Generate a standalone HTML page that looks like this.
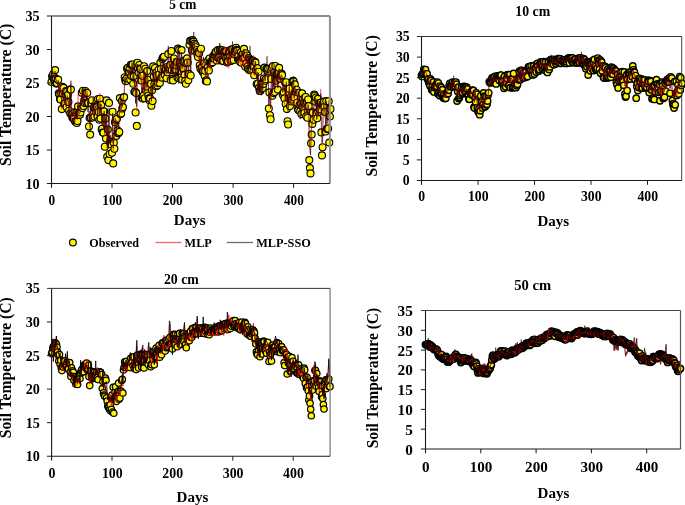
<!DOCTYPE html>
<html><head><meta charset="utf-8"><title>Soil temperature</title>
<style>html,body{margin:0;padding:0;background:#fff}svg{display:block}text{font-family:"Liberation Serif", serif;font-weight:bold;fill:#000}svg{will-change:transform;opacity:0.999}</style></head>
<body>
<svg width="685" height="505" viewBox="0 0 685 505">
<rect width="685" height="505" fill="#fff"/>
<g fill="#fff400" stroke="#000" stroke-width="1.10"><circle cx="51.5" cy="82.0" r="3.5"/><circle cx="52.1" cy="76.6" r="3.5"/><circle cx="52.7" cy="75.8" r="3.5"/><circle cx="53.3" cy="74.0" r="3.5"/><circle cx="53.9" cy="79.6" r="3.5"/><circle cx="54.5" cy="79.2" r="3.5"/><circle cx="55.1" cy="70.1" r="3.5"/><circle cx="55.7" cy="78.6" r="3.5"/><circle cx="56.3" cy="83.6" r="3.5"/><circle cx="56.9" cy="83.1" r="3.5"/><circle cx="57.6" cy="79.6" r="3.5"/><circle cx="58.2" cy="79.8" r="3.5"/><circle cx="58.8" cy="93.4" r="3.5"/><circle cx="59.4" cy="94.2" r="3.5"/><circle cx="60.0" cy="99.1" r="3.5"/><circle cx="60.6" cy="99.5" r="3.5"/><circle cx="61.2" cy="93.3" r="3.5"/><circle cx="61.8" cy="109.1" r="3.5"/><circle cx="62.4" cy="86.9" r="3.5"/><circle cx="63.0" cy="93.8" r="3.5"/><circle cx="63.6" cy="87.9" r="3.5"/><circle cx="64.2" cy="103.8" r="3.5"/><circle cx="64.8" cy="103.5" r="3.5"/><circle cx="65.4" cy="93.9" r="3.5"/><circle cx="66.0" cy="91.1" r="3.5"/><circle cx="66.6" cy="107.0" r="3.5"/><circle cx="67.2" cy="91.2" r="3.5"/><circle cx="67.8" cy="95.0" r="3.5"/><circle cx="68.4" cy="101.9" r="3.5"/><circle cx="69.1" cy="110.7" r="3.5"/><circle cx="69.7" cy="89.5" r="3.5"/><circle cx="70.3" cy="113.5" r="3.5"/><circle cx="70.9" cy="89.6" r="3.5"/><circle cx="71.5" cy="114.6" r="3.5"/><circle cx="72.1" cy="114.7" r="3.5"/><circle cx="72.7" cy="117.9" r="3.5"/><circle cx="73.3" cy="118.1" r="3.5"/><circle cx="73.9" cy="119.0" r="3.5"/><circle cx="74.5" cy="112.3" r="3.5"/><circle cx="75.1" cy="121.4" r="3.5"/><circle cx="75.7" cy="121.7" r="3.5"/><circle cx="76.3" cy="112.5" r="3.5"/><circle cx="76.9" cy="123.0" r="3.5"/><circle cx="77.5" cy="121.1" r="3.5"/><circle cx="78.1" cy="106.4" r="3.5"/><circle cx="78.7" cy="113.9" r="3.5"/><circle cx="79.3" cy="114.7" r="3.5"/><circle cx="79.9" cy="114.7" r="3.5"/><circle cx="80.5" cy="112.4" r="3.5"/><circle cx="81.2" cy="106.7" r="3.5"/><circle cx="81.8" cy="92.7" r="3.5"/><circle cx="82.4" cy="108.1" r="3.5"/><circle cx="83.0" cy="90.7" r="3.5"/><circle cx="83.6" cy="106.0" r="3.5"/><circle cx="84.2" cy="100.5" r="3.5"/><circle cx="84.8" cy="103.1" r="3.5"/><circle cx="85.4" cy="91.0" r="3.5"/><circle cx="86.0" cy="92.8" r="3.5"/><circle cx="86.6" cy="103.1" r="3.5"/><circle cx="87.2" cy="93.0" r="3.5"/><circle cx="87.8" cy="102.2" r="3.5"/><circle cx="88.4" cy="102.9" r="3.5"/><circle cx="89.0" cy="126.5" r="3.5"/><circle cx="89.6" cy="118.1" r="3.5"/><circle cx="90.2" cy="134.6" r="3.5"/><circle cx="90.8" cy="117.6" r="3.5"/><circle cx="91.4" cy="103.2" r="3.5"/><circle cx="92.0" cy="100.2" r="3.5"/><circle cx="92.7" cy="117.5" r="3.5"/><circle cx="93.3" cy="113.2" r="3.5"/><circle cx="93.9" cy="107.4" r="3.5"/><circle cx="94.5" cy="116.5" r="3.5"/><circle cx="95.1" cy="109.1" r="3.5"/><circle cx="95.7" cy="108.0" r="3.5"/><circle cx="96.3" cy="112.4" r="3.5"/><circle cx="96.9" cy="107.1" r="3.5"/><circle cx="97.5" cy="116.2" r="3.5"/><circle cx="98.1" cy="99.0" r="3.5"/><circle cx="98.7" cy="112.0" r="3.5"/><circle cx="99.3" cy="119.7" r="3.5"/><circle cx="99.9" cy="98.8" r="3.5"/><circle cx="100.5" cy="118.6" r="3.5"/><circle cx="101.1" cy="104.9" r="3.5"/><circle cx="101.7" cy="129.6" r="3.5"/><circle cx="102.3" cy="128.8" r="3.5"/><circle cx="102.9" cy="132.6" r="3.5"/><circle cx="103.5" cy="132.8" r="3.5"/><circle cx="104.2" cy="111.4" r="3.5"/><circle cx="104.8" cy="146.7" r="3.5"/><circle cx="105.4" cy="118.6" r="3.5"/><circle cx="106.0" cy="138.6" r="3.5"/><circle cx="106.6" cy="100.4" r="3.5"/><circle cx="107.2" cy="156.7" r="3.5"/><circle cx="107.8" cy="129.6" r="3.5"/><circle cx="108.4" cy="160.1" r="3.5"/><circle cx="109.0" cy="102.9" r="3.5"/><circle cx="109.6" cy="154.0" r="3.5"/><circle cx="110.2" cy="141.5" r="3.5"/><circle cx="110.8" cy="143.3" r="3.5"/><circle cx="111.4" cy="144.5" r="3.5"/><circle cx="112.0" cy="152.7" r="3.5"/><circle cx="112.6" cy="111.7" r="3.5"/><circle cx="113.2" cy="163.4" r="3.5"/><circle cx="113.8" cy="142.7" r="3.5"/><circle cx="114.4" cy="148.7" r="3.5"/><circle cx="115.0" cy="122.2" r="3.5"/><circle cx="115.7" cy="119.8" r="3.5"/><circle cx="116.3" cy="135.9" r="3.5"/><circle cx="116.9" cy="119.0" r="3.5"/><circle cx="117.5" cy="130.4" r="3.5"/><circle cx="118.1" cy="133.2" r="3.5"/><circle cx="118.7" cy="133.1" r="3.5"/><circle cx="119.3" cy="132.0" r="3.5"/><circle cx="119.9" cy="98.1" r="3.5"/><circle cx="120.5" cy="114.3" r="3.5"/><circle cx="121.1" cy="113.4" r="3.5"/><circle cx="121.7" cy="101.1" r="3.5"/><circle cx="122.3" cy="108.4" r="3.5"/><circle cx="122.9" cy="107.1" r="3.5"/><circle cx="123.5" cy="97.5" r="3.5"/><circle cx="124.1" cy="97.1" r="3.5"/><circle cx="124.7" cy="77.3" r="3.5"/><circle cx="125.3" cy="80.2" r="3.5"/><circle cx="125.9" cy="81.2" r="3.5"/><circle cx="126.5" cy="78.5" r="3.5"/><circle cx="127.1" cy="68.5" r="3.5"/><circle cx="127.8" cy="67.7" r="3.5"/><circle cx="128.4" cy="72.3" r="3.5"/><circle cx="129.0" cy="72.1" r="3.5"/><circle cx="129.6" cy="68.6" r="3.5"/><circle cx="130.2" cy="79.4" r="3.5"/><circle cx="130.8" cy="64.8" r="3.5"/><circle cx="131.4" cy="76.1" r="3.5"/><circle cx="132.0" cy="64.7" r="3.5"/><circle cx="132.6" cy="64.5" r="3.5"/><circle cx="133.2" cy="83.8" r="3.5"/><circle cx="133.8" cy="76.1" r="3.5"/><circle cx="134.4" cy="91.7" r="3.5"/><circle cx="135.0" cy="91.8" r="3.5"/><circle cx="135.6" cy="112.5" r="3.5"/><circle cx="136.2" cy="92.9" r="3.5"/><circle cx="136.8" cy="125.9" r="3.5"/><circle cx="137.4" cy="62.7" r="3.5"/><circle cx="138.0" cy="68.8" r="3.5"/><circle cx="138.6" cy="72.6" r="3.5"/><circle cx="139.3" cy="65.0" r="3.5"/><circle cx="139.9" cy="68.5" r="3.5"/><circle cx="140.5" cy="69.1" r="3.5"/><circle cx="141.1" cy="80.5" r="3.5"/><circle cx="141.7" cy="97.7" r="3.5"/><circle cx="142.3" cy="75.8" r="3.5"/><circle cx="142.9" cy="98.6" r="3.5"/><circle cx="143.5" cy="95.8" r="3.5"/><circle cx="144.1" cy="66.2" r="3.5"/><circle cx="144.7" cy="98.3" r="3.5"/><circle cx="145.3" cy="68.7" r="3.5"/><circle cx="145.9" cy="90.0" r="3.5"/><circle cx="146.5" cy="86.5" r="3.5"/><circle cx="147.1" cy="71.1" r="3.5"/><circle cx="147.7" cy="79.6" r="3.5"/><circle cx="148.3" cy="95.5" r="3.5"/><circle cx="148.9" cy="98.4" r="3.5"/><circle cx="149.5" cy="100.2" r="3.5"/><circle cx="150.1" cy="98.6" r="3.5"/><circle cx="150.8" cy="83.9" r="3.5"/><circle cx="151.4" cy="105.8" r="3.5"/><circle cx="152.0" cy="90.3" r="3.5"/><circle cx="152.6" cy="101.1" r="3.5"/><circle cx="153.2" cy="66.4" r="3.5"/><circle cx="153.8" cy="76.4" r="3.5"/><circle cx="154.4" cy="84.3" r="3.5"/><circle cx="155.0" cy="68.0" r="3.5"/><circle cx="155.6" cy="72.7" r="3.5"/><circle cx="156.2" cy="86.3" r="3.5"/><circle cx="156.8" cy="75.7" r="3.5"/><circle cx="157.4" cy="85.4" r="3.5"/><circle cx="158.0" cy="83.1" r="3.5"/><circle cx="158.6" cy="69.8" r="3.5"/><circle cx="159.2" cy="74.2" r="3.5"/><circle cx="159.8" cy="82.9" r="3.5"/><circle cx="160.4" cy="62.6" r="3.5"/><circle cx="161.0" cy="69.0" r="3.5"/><circle cx="161.6" cy="77.6" r="3.5"/><circle cx="162.3" cy="59.1" r="3.5"/><circle cx="162.9" cy="57.7" r="3.5"/><circle cx="163.5" cy="57.0" r="3.5"/><circle cx="164.1" cy="56.7" r="3.5"/><circle cx="164.7" cy="74.8" r="3.5"/><circle cx="165.3" cy="70.2" r="3.5"/><circle cx="165.9" cy="69.6" r="3.5"/><circle cx="166.5" cy="78.2" r="3.5"/><circle cx="167.1" cy="72.2" r="3.5"/><circle cx="167.7" cy="66.7" r="3.5"/><circle cx="168.3" cy="54.1" r="3.5"/><circle cx="168.9" cy="69.4" r="3.5"/><circle cx="169.5" cy="68.0" r="3.5"/><circle cx="170.1" cy="65.1" r="3.5"/><circle cx="170.7" cy="80.0" r="3.5"/><circle cx="171.3" cy="51.0" r="3.5"/><circle cx="171.9" cy="69.9" r="3.5"/><circle cx="172.5" cy="78.9" r="3.5"/><circle cx="173.1" cy="80.4" r="3.5"/><circle cx="173.8" cy="58.5" r="3.5"/><circle cx="174.4" cy="66.3" r="3.5"/><circle cx="175.0" cy="70.6" r="3.5"/><circle cx="175.6" cy="69.4" r="3.5"/><circle cx="176.2" cy="65.2" r="3.5"/><circle cx="176.8" cy="62.0" r="3.5"/><circle cx="177.4" cy="77.6" r="3.5"/><circle cx="178.0" cy="48.6" r="3.5"/><circle cx="178.6" cy="77.9" r="3.5"/><circle cx="179.2" cy="49.9" r="3.5"/><circle cx="179.8" cy="63.1" r="3.5"/><circle cx="180.4" cy="77.6" r="3.5"/><circle cx="181.0" cy="66.3" r="3.5"/><circle cx="181.6" cy="50.1" r="3.5"/><circle cx="182.2" cy="79.7" r="3.5"/><circle cx="182.8" cy="67.9" r="3.5"/><circle cx="183.4" cy="60.8" r="3.5"/><circle cx="184.0" cy="62.1" r="3.5"/><circle cx="184.6" cy="74.9" r="3.5"/><circle cx="185.2" cy="80.9" r="3.5"/><circle cx="185.9" cy="83.7" r="3.5"/><circle cx="186.5" cy="63.2" r="3.5"/><circle cx="187.1" cy="58.4" r="3.5"/><circle cx="187.7" cy="62.5" r="3.5"/><circle cx="188.3" cy="80.3" r="3.5"/><circle cx="188.9" cy="73.9" r="3.5"/><circle cx="189.5" cy="44.8" r="3.5"/><circle cx="190.1" cy="40.8" r="3.5"/><circle cx="190.7" cy="75.5" r="3.5"/><circle cx="191.3" cy="40.6" r="3.5"/><circle cx="191.9" cy="50.5" r="3.5"/><circle cx="192.5" cy="40.1" r="3.5"/><circle cx="193.1" cy="41.4" r="3.5"/><circle cx="193.7" cy="41.7" r="3.5"/><circle cx="194.3" cy="43.8" r="3.5"/><circle cx="194.9" cy="50.8" r="3.5"/><circle cx="195.5" cy="45.3" r="3.5"/><circle cx="196.1" cy="47.3" r="3.5"/><circle cx="196.7" cy="50.0" r="3.5"/><circle cx="197.4" cy="54.2" r="3.5"/><circle cx="198.0" cy="57.0" r="3.5"/><circle cx="198.6" cy="51.6" r="3.5"/><circle cx="199.2" cy="53.2" r="3.5"/><circle cx="199.8" cy="65.2" r="3.5"/><circle cx="200.4" cy="68.6" r="3.5"/><circle cx="201.0" cy="48.8" r="3.5"/><circle cx="201.6" cy="70.0" r="3.5"/><circle cx="202.2" cy="66.9" r="3.5"/><circle cx="202.8" cy="71.9" r="3.5"/><circle cx="203.4" cy="70.9" r="3.5"/><circle cx="204.0" cy="63.2" r="3.5"/><circle cx="204.6" cy="75.6" r="3.5"/><circle cx="205.2" cy="70.7" r="3.5"/><circle cx="205.8" cy="81.0" r="3.5"/><circle cx="206.4" cy="80.2" r="3.5"/><circle cx="207.0" cy="81.5" r="3.5"/><circle cx="207.6" cy="67.8" r="3.5"/><circle cx="208.2" cy="60.6" r="3.5"/><circle cx="208.9" cy="70.5" r="3.5"/><circle cx="209.5" cy="58.5" r="3.5"/><circle cx="210.1" cy="63.3" r="3.5"/><circle cx="210.7" cy="61.7" r="3.5"/><circle cx="211.3" cy="63.2" r="3.5"/><circle cx="211.9" cy="61.8" r="3.5"/><circle cx="212.5" cy="62.2" r="3.5"/><circle cx="213.1" cy="56.2" r="3.5"/><circle cx="213.7" cy="58.5" r="3.5"/><circle cx="214.3" cy="55.0" r="3.5"/><circle cx="214.9" cy="54.8" r="3.5"/><circle cx="215.5" cy="52.4" r="3.5"/><circle cx="216.1" cy="51.9" r="3.5"/><circle cx="216.7" cy="60.4" r="3.5"/><circle cx="217.3" cy="57.4" r="3.5"/><circle cx="217.9" cy="50.1" r="3.5"/><circle cx="218.5" cy="58.0" r="3.5"/><circle cx="219.1" cy="57.5" r="3.5"/><circle cx="219.7" cy="49.7" r="3.5"/><circle cx="220.4" cy="49.9" r="3.5"/><circle cx="221.0" cy="60.1" r="3.5"/><circle cx="221.6" cy="50.6" r="3.5"/><circle cx="222.2" cy="50.3" r="3.5"/><circle cx="222.8" cy="61.1" r="3.5"/><circle cx="223.4" cy="61.0" r="3.5"/><circle cx="224.0" cy="51.6" r="3.5"/><circle cx="224.6" cy="56.3" r="3.5"/><circle cx="225.2" cy="51.5" r="3.5"/><circle cx="225.8" cy="58.3" r="3.5"/><circle cx="226.4" cy="51.2" r="3.5"/><circle cx="227.0" cy="62.4" r="3.5"/><circle cx="227.6" cy="61.1" r="3.5"/><circle cx="228.2" cy="61.6" r="3.5"/><circle cx="228.8" cy="53.0" r="3.5"/><circle cx="229.4" cy="51.0" r="3.5"/><circle cx="230.0" cy="56.8" r="3.5"/><circle cx="230.6" cy="61.0" r="3.5"/><circle cx="231.2" cy="49.5" r="3.5"/><circle cx="231.8" cy="60.5" r="3.5"/><circle cx="232.5" cy="49.2" r="3.5"/><circle cx="233.1" cy="56.9" r="3.5"/><circle cx="233.7" cy="59.9" r="3.5"/><circle cx="234.3" cy="54.2" r="3.5"/><circle cx="234.9" cy="50.7" r="3.5"/><circle cx="235.5" cy="52.0" r="3.5"/><circle cx="236.1" cy="47.7" r="3.5"/><circle cx="236.7" cy="49.9" r="3.5"/><circle cx="237.3" cy="50.7" r="3.5"/><circle cx="237.9" cy="59.1" r="3.5"/><circle cx="238.5" cy="56.1" r="3.5"/><circle cx="239.1" cy="60.1" r="3.5"/><circle cx="239.7" cy="59.9" r="3.5"/><circle cx="240.3" cy="61.9" r="3.5"/><circle cx="240.9" cy="52.1" r="3.5"/><circle cx="241.5" cy="62.7" r="3.5"/><circle cx="242.1" cy="54.9" r="3.5"/><circle cx="242.7" cy="54.0" r="3.5"/><circle cx="243.3" cy="58.3" r="3.5"/><circle cx="244.0" cy="48.9" r="3.5"/><circle cx="244.6" cy="57.8" r="3.5"/><circle cx="245.2" cy="66.6" r="3.5"/><circle cx="245.8" cy="53.2" r="3.5"/><circle cx="246.4" cy="63.4" r="3.5"/><circle cx="247.0" cy="55.5" r="3.5"/><circle cx="247.6" cy="66.4" r="3.5"/><circle cx="248.2" cy="69.1" r="3.5"/><circle cx="248.8" cy="58.0" r="3.5"/><circle cx="249.4" cy="70.1" r="3.5"/><circle cx="250.0" cy="59.5" r="3.5"/><circle cx="250.6" cy="70.0" r="3.5"/><circle cx="251.2" cy="61.5" r="3.5"/><circle cx="251.8" cy="69.0" r="3.5"/><circle cx="252.4" cy="60.4" r="3.5"/><circle cx="253.0" cy="60.7" r="3.5"/><circle cx="253.6" cy="66.2" r="3.5"/><circle cx="254.2" cy="75.2" r="3.5"/><circle cx="254.8" cy="61.8" r="3.5"/><circle cx="255.5" cy="62.6" r="3.5"/><circle cx="256.1" cy="69.8" r="3.5"/><circle cx="256.7" cy="84.0" r="3.5"/><circle cx="257.3" cy="68.1" r="3.5"/><circle cx="257.9" cy="83.6" r="3.5"/><circle cx="258.5" cy="71.8" r="3.5"/><circle cx="259.1" cy="87.8" r="3.5"/><circle cx="259.7" cy="90.9" r="3.5"/><circle cx="260.3" cy="90.9" r="3.5"/><circle cx="260.9" cy="89.5" r="3.5"/><circle cx="261.5" cy="86.6" r="3.5"/><circle cx="262.1" cy="84.0" r="3.5"/><circle cx="262.7" cy="87.9" r="3.5"/><circle cx="263.3" cy="83.9" r="3.5"/><circle cx="263.9" cy="78.5" r="3.5"/><circle cx="264.5" cy="67.6" r="3.5"/><circle cx="265.1" cy="80.8" r="3.5"/><circle cx="265.7" cy="79.2" r="3.5"/><circle cx="266.3" cy="68.7" r="3.5"/><circle cx="267.0" cy="69.2" r="3.5"/><circle cx="267.6" cy="71.4" r="3.5"/><circle cx="268.2" cy="68.8" r="3.5"/><circle cx="268.8" cy="108.5" r="3.5"/><circle cx="269.4" cy="92.4" r="3.5"/><circle cx="270.0" cy="115.2" r="3.5"/><circle cx="270.6" cy="119.2" r="3.5"/><circle cx="271.2" cy="79.0" r="3.5"/><circle cx="271.8" cy="67.6" r="3.5"/><circle cx="272.4" cy="95.8" r="3.5"/><circle cx="273.0" cy="66.1" r="3.5"/><circle cx="273.6" cy="93.1" r="3.5"/><circle cx="274.2" cy="72.7" r="3.5"/><circle cx="274.8" cy="92.0" r="3.5"/><circle cx="275.4" cy="66.0" r="3.5"/><circle cx="276.0" cy="80.8" r="3.5"/><circle cx="276.6" cy="74.9" r="3.5"/><circle cx="277.2" cy="74.1" r="3.5"/><circle cx="277.8" cy="89.6" r="3.5"/><circle cx="278.4" cy="72.8" r="3.5"/><circle cx="279.1" cy="67.9" r="3.5"/><circle cx="279.7" cy="78.9" r="3.5"/><circle cx="280.3" cy="78.7" r="3.5"/><circle cx="280.9" cy="75.7" r="3.5"/><circle cx="281.5" cy="73.6" r="3.5"/><circle cx="282.1" cy="75.1" r="3.5"/><circle cx="282.7" cy="94.1" r="3.5"/><circle cx="283.3" cy="95.4" r="3.5"/><circle cx="283.9" cy="92.5" r="3.5"/><circle cx="284.5" cy="98.4" r="3.5"/><circle cx="285.1" cy="82.8" r="3.5"/><circle cx="285.7" cy="104.0" r="3.5"/><circle cx="286.3" cy="82.3" r="3.5"/><circle cx="286.9" cy="109.1" r="3.5"/><circle cx="287.5" cy="121.2" r="3.5"/><circle cx="288.1" cy="124.5" r="3.5"/><circle cx="288.7" cy="92.8" r="3.5"/><circle cx="289.3" cy="88.8" r="3.5"/><circle cx="289.9" cy="106.0" r="3.5"/><circle cx="290.6" cy="97.2" r="3.5"/><circle cx="291.2" cy="101.4" r="3.5"/><circle cx="291.8" cy="99.6" r="3.5"/><circle cx="292.4" cy="82.0" r="3.5"/><circle cx="293.0" cy="80.9" r="3.5"/><circle cx="293.6" cy="81.4" r="3.5"/><circle cx="294.2" cy="97.4" r="3.5"/><circle cx="294.8" cy="84.4" r="3.5"/><circle cx="295.4" cy="91.5" r="3.5"/><circle cx="296.0" cy="92.0" r="3.5"/><circle cx="296.6" cy="89.8" r="3.5"/><circle cx="297.2" cy="102.8" r="3.5"/><circle cx="297.8" cy="108.9" r="3.5"/><circle cx="298.4" cy="110.1" r="3.5"/><circle cx="299.0" cy="92.7" r="3.5"/><circle cx="299.6" cy="104.9" r="3.5"/><circle cx="300.2" cy="111.2" r="3.5"/><circle cx="300.8" cy="103.6" r="3.5"/><circle cx="301.4" cy="114.1" r="3.5"/><circle cx="302.1" cy="93.4" r="3.5"/><circle cx="302.7" cy="107.0" r="3.5"/><circle cx="303.3" cy="99.0" r="3.5"/><circle cx="303.9" cy="102.7" r="3.5"/><circle cx="304.5" cy="113.0" r="3.5"/><circle cx="305.1" cy="97.8" r="3.5"/><circle cx="305.7" cy="97.0" r="3.5"/><circle cx="306.3" cy="116.2" r="3.5"/><circle cx="306.9" cy="101.9" r="3.5"/><circle cx="307.5" cy="117.7" r="3.5"/><circle cx="308.1" cy="99.5" r="3.5"/><circle cx="308.7" cy="106.1" r="3.5"/><circle cx="309.3" cy="160.1" r="3.5"/><circle cx="309.9" cy="168.1" r="3.5"/><circle cx="310.5" cy="173.4" r="3.5"/><circle cx="311.1" cy="143.3" r="3.5"/><circle cx="311.7" cy="134.6" r="3.5"/><circle cx="312.3" cy="123.9" r="3.5"/><circle cx="312.9" cy="112.6" r="3.5"/><circle cx="313.6" cy="119.8" r="3.5"/><circle cx="314.2" cy="94.5" r="3.5"/><circle cx="314.8" cy="95.6" r="3.5"/><circle cx="315.4" cy="101.7" r="3.5"/><circle cx="316.0" cy="97.5" r="3.5"/><circle cx="316.6" cy="113.1" r="3.5"/><circle cx="317.2" cy="118.2" r="3.5"/><circle cx="317.8" cy="98.9" r="3.5"/><circle cx="318.4" cy="111.8" r="3.5"/><circle cx="319.0" cy="103.4" r="3.5"/><circle cx="319.6" cy="109.4" r="3.5"/><circle cx="320.2" cy="103.1" r="3.5"/><circle cx="320.8" cy="102.6" r="3.5"/><circle cx="321.4" cy="132.4" r="3.5"/><circle cx="322.0" cy="155.4" r="3.5"/><circle cx="322.6" cy="147.3" r="3.5"/><circle cx="323.2" cy="103.5" r="3.5"/><circle cx="323.8" cy="101.6" r="3.5"/><circle cx="324.4" cy="107.0" r="3.5"/><circle cx="325.1" cy="111.9" r="3.5"/><circle cx="325.7" cy="131.5" r="3.5"/><circle cx="326.3" cy="101.1" r="3.5"/><circle cx="326.9" cy="128.7" r="3.5"/><circle cx="327.5" cy="129.1" r="3.5"/><circle cx="328.1" cy="128.5" r="3.5"/><circle cx="328.7" cy="101.3" r="3.5"/><circle cx="329.3" cy="142.6" r="3.5"/><circle cx="329.9" cy="116.5" r="3.5"/><circle cx="330.5" cy="109.0" r="3.5"/></g>
<polyline fill="none" stroke="#ff0000" stroke-width="0.42" stroke-linejoin="bevel" points="51.5,80.1 52.1,77.4 52.7,71.2 53.3,74.1 53.9,77.5 54.5,76.2 55.1,74.3 55.7,79.9 56.3,79.4 56.9,82.2 57.6,84.1 58.2,80.7 58.8,94.9 59.4,92.2 60.0,82.8 60.6,93.0 61.2,94.9 61.8,109.4 62.4,88.4 63.0,93.4 63.6,89.2 64.2,103.5 64.8,104.3 65.4,96.3 66.0,106.9 66.6,106.4 67.2,98.2 67.8,100.1 68.4,101.6 69.1,117.5 69.7,92.6 70.3,109.5 70.9,83.9 71.5,121.0 72.1,109.7 72.7,117.0 73.3,114.1 73.9,115.0 74.5,109.8 75.1,122.1 75.7,112.5 76.3,112.4 76.9,119.3 77.5,119.8 78.1,93.7 78.7,114.7 79.3,113.8 79.9,112.7 80.5,109.1 81.2,102.8 81.8,92.7 82.4,104.0 83.0,90.8 83.6,103.1 84.2,98.0 84.8,98.4 85.4,89.3 86.0,97.4 86.6,101.1 87.2,90.9 87.8,102.4 88.4,102.2 89.0,118.6 89.6,115.7 90.2,124.7 90.8,112.8 91.4,107.4 92.0,104.1 92.7,109.4 93.3,96.9 93.9,108.0 94.5,117.4 95.1,105.9 95.7,108.5 96.3,105.2 96.9,105.4 97.5,114.2 98.1,103.5 98.7,104.7 99.3,115.9 99.9,92.9 100.5,106.1 101.1,104.2 101.7,125.1 102.3,124.4 102.9,113.2 103.5,126.7 104.2,110.8 104.8,136.3 105.4,118.9 106.0,132.9 106.6,109.6 107.2,145.7 107.8,124.4 108.4,146.8 109.0,111.2 109.6,144.3 110.2,134.7 110.8,138.9 111.4,137.7 112.0,140.9 112.6,115.7 113.2,150.7 113.8,137.3 114.4,141.2 115.0,121.5 115.7,118.1 116.3,131.0 116.9,121.2 117.5,126.2 118.1,124.1 118.7,127.5 119.3,121.1 119.9,99.7 120.5,113.1 121.1,111.7 121.7,102.1 122.3,107.6 122.9,103.8 123.5,93.1 124.1,94.8 124.7,81.1 125.3,80.5 125.9,77.6 126.5,76.2 127.1,72.6 127.8,71.1 128.4,73.5 129.0,69.2 129.6,73.0 130.2,78.1 130.8,66.4 131.4,74.5 132.0,63.4 132.6,68.6 133.2,81.7 133.8,77.3 134.4,81.6 135.0,82.2 135.6,102.9 136.2,82.9 136.8,110.9 137.4,63.9 138.0,70.7 138.6,72.8 139.3,68.3 139.9,67.6 140.5,73.0 141.1,78.9 141.7,92.5 142.3,75.9 142.9,93.2 143.5,93.4 144.1,72.8 144.7,91.5 145.3,72.3 145.9,91.0 146.5,84.6 147.1,67.2 147.7,85.0 148.3,90.3 148.9,93.2 149.5,94.2 150.1,93.0 150.8,88.2 151.4,102.3 152.0,86.2 152.6,96.6 153.2,70.0 153.8,76.8 154.4,84.9 155.0,71.1 155.6,71.6 156.2,84.7 156.8,75.6 157.4,82.8 158.0,82.6 158.6,74.9 159.2,74.8 159.8,79.7 160.4,61.9 161.0,70.4 161.6,72.6 162.3,61.2 162.9,61.8 163.5,61.6 164.1,65.4 164.7,75.2 165.3,70.5 165.9,66.3 166.5,76.7 167.1,70.9 167.7,68.2 168.3,48.8 168.9,62.0 169.5,68.5 170.1,61.5 170.7,72.5 171.3,58.2 171.9,64.2 172.5,78.6 173.1,77.2 173.8,60.1 174.4,62.1 175.0,70.6 175.6,74.5 176.2,63.1 176.8,57.7 177.4,72.0 178.0,50.3 178.6,82.6 179.2,50.9 179.8,50.2 180.4,74.0 181.0,66.3 181.6,54.3 182.2,69.4 182.8,66.4 183.4,63.4 184.0,62.6 184.6,75.6 185.2,77.3 185.9,79.8 186.5,65.4 187.1,58.7 187.7,65.8 188.3,73.9 188.9,66.8 189.5,49.0 190.1,41.8 190.7,72.8 191.3,45.5 191.9,50.1 192.5,45.6 193.1,42.5 193.7,46.8 194.3,44.8 194.9,54.9 195.5,49.5 196.1,50.5 196.7,50.8 197.4,54.6 198.0,54.4 198.6,63.0 199.2,54.6 199.8,69.7 200.4,67.3 201.0,49.5 201.6,66.4 202.2,63.4 202.8,65.5 203.4,57.0 204.0,61.5 204.6,72.7 205.2,69.5 205.8,77.9 206.4,76.2 207.0,78.8 207.6,65.4 208.2,64.3 208.9,67.7 209.5,60.6 210.1,70.4 210.7,61.0 211.3,62.1 211.9,55.6 212.5,59.9 213.1,54.3 213.7,59.7 214.3,54.3 214.9,56.0 215.5,59.5 216.1,56.0 216.7,63.5 217.3,62.1 217.9,52.7 218.5,63.9 219.1,65.1 219.7,43.4 220.4,52.3 221.0,56.9 221.6,54.1 222.2,47.9 222.8,58.8 223.4,61.6 224.0,57.1 224.6,46.4 225.2,51.9 225.8,57.2 226.4,46.7 227.0,61.7 227.6,58.4 228.2,68.4 228.8,48.1 229.4,66.6 230.0,55.2 230.6,58.1 231.2,48.7 231.8,55.1 232.5,49.3 233.1,57.5 233.7,55.8 234.3,58.2 234.9,50.7 235.5,55.7 236.1,48.3 236.7,51.9 237.3,52.2 237.9,59.0 238.5,54.5 239.1,63.3 239.7,59.4 240.3,62.6 240.9,66.2 241.5,52.4 242.1,51.4 242.7,63.4 243.3,59.3 244.0,49.0 244.6,56.2 245.2,66.8 245.8,56.7 246.4,64.0 247.0,54.8 247.6,65.2 248.2,69.6 248.8,54.5 249.4,59.4 250.0,57.7 250.6,76.4 251.2,63.9 251.8,64.2 252.4,59.3 253.0,61.0 253.6,55.3 254.2,75.8 254.8,65.8 255.5,62.1 256.1,71.9 256.7,81.0 257.3,73.8 257.9,92.9 258.5,73.3 259.1,92.3 259.7,86.6 260.3,90.4 260.9,83.3 261.5,95.7 262.1,82.8 262.7,89.2 263.3,78.9 263.9,82.9 264.5,68.6 265.1,79.6 265.7,72.6 266.3,76.1 267.0,70.8 267.6,70.8 268.2,71.3 268.8,106.3 269.4,91.3 270.0,99.0 270.6,107.5 271.2,81.2 271.8,62.7 272.4,93.1 273.0,72.6 273.6,87.2 274.2,78.4 274.8,90.5 275.4,72.8 276.0,84.6 276.6,76.6 277.2,72.0 277.8,88.2 278.4,79.3 279.1,68.8 279.7,77.3 280.3,82.5 280.9,75.8 281.5,75.8 282.1,78.1 282.7,92.2 283.3,90.2 283.9,83.8 284.5,104.6 285.1,84.3 285.7,101.4 286.3,84.3 286.9,102.9 287.5,100.3 288.1,108.9 288.7,94.0 289.3,89.1 289.9,103.7 290.6,94.1 291.2,102.0 291.8,101.5 292.4,78.9 293.0,88.1 293.6,87.0 294.2,108.6 294.8,87.9 295.4,89.9 296.0,95.9 296.6,90.1 297.2,101.8 297.8,105.4 298.4,103.8 299.0,94.4 299.6,106.2 300.2,119.1 300.8,107.8 301.4,106.5 302.1,97.7 302.7,108.8 303.3,101.9 303.9,103.2 304.5,113.3 305.1,99.9 305.7,104.1 306.3,115.7 306.9,107.9 307.5,112.5 308.1,104.6 308.7,111.7 309.3,145.0 309.9,149.5 310.5,154.9 311.1,143.0 311.7,125.7 312.3,119.8 312.9,107.8 313.6,117.6 314.2,102.4 314.8,97.1 315.4,102.9 316.0,101.1 316.6,119.4 317.2,115.3 317.8,104.7 318.4,117.3 319.0,101.7 319.6,108.5 320.2,105.2 320.8,89.0 321.4,126.9 322.0,145.5 322.6,143.9 323.2,109.3 323.8,105.6 324.4,110.6 325.1,109.5 325.7,130.5 326.3,101.3 326.9,123.5 327.5,117.9 328.1,109.5 328.7,100.3 329.3,132.1 329.9,113.8 330.5,112.8"/>
<polyline fill="none" stroke="#000000" stroke-width="0.50" stroke-linejoin="bevel" points="51.5,79.1 52.1,77.6 52.7,69.3 53.3,77.6 53.9,76.4 54.5,78.6 55.1,70.9 55.7,79.6 56.3,79.8 56.9,81.4 57.6,85.8 58.2,80.5 58.8,92.7 59.4,90.3 60.0,92.7 60.6,92.2 61.2,93.2 61.8,106.6 62.4,89.6 63.0,95.0 63.6,93.4 64.2,103.0 64.8,101.2 65.4,93.9 66.0,106.9 66.6,105.3 67.2,95.6 67.8,100.5 68.4,99.4 69.1,119.8 69.7,92.8 70.3,106.7 70.9,80.7 71.5,114.1 72.1,112.5 72.7,116.5 73.3,112.1 73.9,114.0 74.5,108.6 75.1,118.5 75.7,114.5 76.3,109.2 76.9,119.2 77.5,112.6 78.1,105.4 78.7,112.9 79.3,113.8 79.9,113.5 80.5,107.6 81.2,100.3 81.8,94.4 82.4,102.7 83.0,89.6 83.6,100.1 84.2,97.4 84.8,96.8 85.4,87.2 86.0,94.4 86.6,98.9 87.2,94.3 87.8,111.9 88.4,99.3 89.0,116.0 89.6,118.8 90.2,130.9 90.8,111.7 91.4,107.5 92.0,102.1 92.7,107.4 93.3,97.4 93.9,105.7 94.5,116.4 95.1,106.7 95.7,107.2 96.3,101.0 96.9,103.1 97.5,115.0 98.1,99.2 98.7,106.4 99.3,115.2 99.9,103.4 100.5,110.4 101.1,103.9 101.7,122.9 102.3,126.1 102.9,112.9 103.5,128.3 104.2,111.2 104.8,132.8 105.4,116.4 106.0,132.0 106.6,109.4 107.2,148.2 107.8,126.2 108.4,146.2 109.0,107.8 109.6,143.0 110.2,135.5 110.8,138.5 111.4,138.0 112.0,142.8 112.6,112.9 113.2,148.1 113.8,137.1 114.4,136.5 115.0,118.7 115.7,120.7 116.3,132.0 116.9,120.5 117.5,123.7 118.1,123.0 118.7,127.6 119.3,119.1 119.9,100.4 120.5,101.3 121.1,108.5 121.7,98.5 122.3,106.2 122.9,103.5 123.5,93.2 124.1,94.9 124.7,77.4 125.3,84.3 125.9,73.9 126.5,73.6 127.1,73.1 127.8,69.2 128.4,72.6 129.0,69.2 129.6,69.8 130.2,78.6 130.8,66.5 131.4,75.1 132.0,62.5 132.6,67.9 133.2,82.5 133.8,60.9 134.4,86.2 135.0,79.9 135.6,103.5 136.2,88.7 136.8,106.5 137.4,64.0 138.0,70.1 138.6,83.0 139.3,69.7 139.9,69.6 140.5,72.0 141.1,80.0 141.7,92.7 142.3,89.6 142.9,92.2 143.5,79.7 144.1,70.3 144.7,92.3 145.3,72.3 145.9,85.7 146.5,87.4 147.1,67.3 147.7,77.8 148.3,92.4 148.9,92.3 149.5,94.0 150.1,91.9 150.8,86.6 151.4,100.8 152.0,86.0 152.6,95.9 153.2,69.6 153.8,82.8 154.4,84.5 155.0,72.1 155.6,73.4 156.2,81.6 156.8,76.7 157.4,82.6 158.0,77.4 158.6,74.2 159.2,70.9 159.8,79.8 160.4,63.1 161.0,68.3 161.6,74.2 162.3,63.7 162.9,58.1 163.5,60.1 164.1,65.8 164.7,75.0 165.3,66.6 165.9,65.2 166.5,72.4 167.1,69.5 167.7,65.0 168.3,45.9 168.9,62.2 169.5,66.3 170.1,64.4 170.7,73.0 171.3,57.1 171.9,63.0 172.5,77.3 173.1,77.0 173.8,58.6 174.4,60.7 175.0,57.9 175.6,73.9 176.2,70.8 176.8,59.0 177.4,73.5 178.0,49.3 178.6,83.5 179.2,51.2 179.8,51.7 180.4,72.8 181.0,68.4 181.6,52.1 182.2,68.0 182.8,66.7 183.4,61.2 184.0,63.3 184.6,76.5 185.2,78.0 185.9,77.7 186.5,65.9 187.1,59.5 187.7,65.3 188.3,72.5 188.9,68.1 189.5,50.7 190.1,39.5 190.7,72.4 191.3,41.3 191.9,50.3 192.5,44.9 193.1,42.8 193.7,32.0 194.3,41.6 194.9,54.4 195.5,48.9 196.1,50.5 196.7,49.9 197.4,49.7 198.0,52.2 198.6,51.6 199.2,54.3 199.8,62.6 200.4,65.7 201.0,51.0 201.6,65.2 202.2,63.8 202.8,63.7 203.4,56.8 204.0,62.0 204.6,69.2 205.2,67.7 205.8,77.0 206.4,76.7 207.0,78.7 207.6,63.7 208.2,64.2 208.9,66.1 209.5,59.6 210.1,64.0 210.7,58.8 211.3,62.3 211.9,57.9 212.5,55.7 213.1,53.8 213.7,59.1 214.3,53.3 214.9,54.1 215.5,58.0 216.1,55.7 216.7,62.1 217.3,60.9 217.9,50.7 218.5,48.9 219.1,63.6 219.7,43.1 220.4,51.4 221.0,56.5 221.6,52.1 222.2,47.4 222.8,58.8 223.4,60.9 224.0,53.2 224.6,58.0 225.2,52.8 225.8,56.1 226.4,48.3 227.0,58.0 227.6,57.0 228.2,59.8 228.8,48.1 229.4,55.4 230.0,54.2 230.6,56.3 231.2,46.7 231.8,56.4 232.5,41.4 233.1,56.5 233.7,55.4 234.3,55.7 234.9,52.7 235.5,53.2 236.1,45.7 236.7,51.4 237.3,51.9 237.9,60.5 238.5,53.2 239.1,59.3 239.7,60.1 240.3,59.1 240.9,52.2 241.5,50.8 242.1,53.3 242.7,54.2 243.3,57.2 244.0,49.2 244.6,53.9 245.2,54.2 245.8,55.4 246.4,61.2 247.0,52.9 247.6,65.9 248.2,69.1 248.8,55.7 249.4,69.1 250.0,45.9 250.6,70.5 251.2,56.2 251.8,65.2 252.4,58.8 253.0,61.9 253.6,59.4 254.2,74.6 254.8,65.6 255.5,61.1 256.1,72.0 256.7,79.1 257.3,72.1 257.9,90.9 258.5,72.6 259.1,93.1 259.7,85.6 260.3,92.1 260.9,83.0 261.5,94.2 262.1,83.1 262.7,90.1 263.3,79.1 263.9,79.0 264.5,68.2 265.1,81.0 265.7,72.4 266.3,74.6 267.0,56.3 267.6,73.7 268.2,69.0 268.8,105.8 269.4,93.0 270.0,101.3 270.6,108.8 271.2,85.3 271.8,71.9 272.4,92.8 273.0,70.5 273.6,87.5 274.2,64.1 274.8,89.0 275.4,68.6 276.0,78.2 276.6,75.8 277.2,72.8 277.8,88.1 278.4,76.0 279.1,68.7 279.7,77.2 280.3,81.6 280.9,75.2 281.5,74.8 282.1,76.6 282.7,92.2 283.3,89.3 283.9,84.8 284.5,91.2 285.1,85.5 285.7,101.4 286.3,81.6 286.9,102.4 287.5,95.4 288.1,112.0 288.7,95.1 289.3,86.3 289.9,103.5 290.6,93.9 291.2,100.3 291.8,96.7 292.4,81.5 293.0,85.1 293.6,76.1 294.2,97.8 294.8,85.5 295.4,89.0 296.0,93.9 296.6,89.0 297.2,91.6 297.8,108.9 298.4,107.2 299.0,92.6 299.6,102.6 300.2,119.1 300.8,101.4 301.4,109.7 302.1,99.4 302.7,108.0 303.3,101.0 303.9,105.1 304.5,114.5 305.1,99.7 305.7,101.1 306.3,113.2 306.9,110.7 307.5,113.7 308.1,104.7 308.7,107.0 309.3,141.9 309.9,147.8 310.5,155.1 311.1,130.0 311.7,127.6 312.3,119.4 312.9,107.3 313.6,113.3 314.2,101.5 314.8,97.0 315.4,100.4 316.0,98.4 316.6,119.5 317.2,117.9 317.8,103.1 318.4,115.6 319.0,101.2 319.6,108.8 320.2,105.1 320.8,93.5 321.4,126.1 322.0,142.7 322.6,140.5 323.2,107.4 323.8,103.9 324.4,107.8 325.1,113.1 325.7,127.3 326.3,101.2 326.9,124.3 327.5,120.0 328.1,107.1 328.7,103.6 329.3,132.2 329.9,112.6 330.5,114.9"/>
<g shape-rendering="auto"><path d="M46.9 16.0H329.9" stroke="#8c8c8c" stroke-width="1.8"/><path d="M329.9 16.0V183.5" stroke="#909090" stroke-width="2.0"/><path d="M51.5 16.0V187.8" stroke="#1a1a1a" stroke-width="1.1"/><path d="M46.9 183.5H329.9" stroke="#1a1a1a" stroke-width="1.1"/><path d="M46.9 150.0H51.5M46.9 116.5H51.5M46.9 83.0H51.5M46.9 49.5H51.5M112.0 183.5V187.8M172.5 183.5V187.8M233.1 183.5V187.8M293.6 183.5V187.8" stroke="#1a1a1a" stroke-width="1" fill="none"/></g>
<text transform="translate(39.6 188.8) scale(0.970 1)" text-anchor="end" font-size="14.6">10</text><text transform="translate(39.6 155.3) scale(0.970 1)" text-anchor="end" font-size="14.6">15</text><text transform="translate(39.6 121.8) scale(0.970 1)" text-anchor="end" font-size="14.6">20</text><text transform="translate(39.6 88.3) scale(0.970 1)" text-anchor="end" font-size="14.6">25</text><text transform="translate(39.6 54.8) scale(0.970 1)" text-anchor="end" font-size="14.6">30</text><text transform="translate(39.6 21.3) scale(0.970 1)" text-anchor="end" font-size="14.6">35</text><text transform="translate(51.8 205.2) scale(0.910 1)" text-anchor="middle" font-size="14.6">0</text><text transform="translate(112.3 205.2) scale(0.910 1)" text-anchor="middle" font-size="14.6">100</text><text transform="translate(172.8 205.2) scale(0.910 1)" text-anchor="middle" font-size="14.6">200</text><text transform="translate(233.4 205.2) scale(0.910 1)" text-anchor="middle" font-size="14.6">300</text><text transform="translate(293.9 205.2) scale(0.910 1)" text-anchor="middle" font-size="14.6">400</text><text transform="translate(182.8 9.4) scale(0.955 1)" text-anchor="middle" font-size="14.0">5 cm</text><text transform="translate(189.7 224.9) scale(0.985 1)" text-anchor="middle" font-size="15.3">Days</text><text transform="translate(11.0 94.9) rotate(-90) scale(0.985 1)" text-anchor="middle" font-size="16.0">Soil Temperature (C)</text>
<g fill="#fff400" stroke="#000" stroke-width="1.40"><circle cx="421.5" cy="75.3" r="3.2"/><circle cx="422.1" cy="76.4" r="3.2"/><circle cx="422.6" cy="74.0" r="3.2"/><circle cx="423.2" cy="73.3" r="3.2"/><circle cx="423.8" cy="69.5" r="3.2"/><circle cx="424.3" cy="72.0" r="3.2"/><circle cx="424.9" cy="72.2" r="3.2"/><circle cx="425.5" cy="69.6" r="3.2"/><circle cx="426.0" cy="74.2" r="3.2"/><circle cx="426.6" cy="73.9" r="3.2"/><circle cx="427.1" cy="73.8" r="3.2"/><circle cx="427.7" cy="79.5" r="3.2"/><circle cx="428.3" cy="78.9" r="3.2"/><circle cx="428.8" cy="82.6" r="3.2"/><circle cx="429.4" cy="83.7" r="3.2"/><circle cx="430.0" cy="85.8" r="3.2"/><circle cx="430.5" cy="79.0" r="3.2"/><circle cx="431.1" cy="80.6" r="3.2"/><circle cx="431.7" cy="89.7" r="3.2"/><circle cx="432.2" cy="86.0" r="3.2"/><circle cx="432.8" cy="90.0" r="3.2"/><circle cx="433.4" cy="82.0" r="3.2"/><circle cx="433.9" cy="91.9" r="3.2"/><circle cx="434.5" cy="86.5" r="3.2"/><circle cx="435.1" cy="87.8" r="3.2"/><circle cx="435.6" cy="85.2" r="3.2"/><circle cx="436.2" cy="86.4" r="3.2"/><circle cx="436.8" cy="86.2" r="3.2"/><circle cx="437.3" cy="82.1" r="3.2"/><circle cx="437.9" cy="93.8" r="3.2"/><circle cx="438.4" cy="83.1" r="3.2"/><circle cx="439.0" cy="93.1" r="3.2"/><circle cx="439.6" cy="95.5" r="3.2"/><circle cx="440.1" cy="86.1" r="3.2"/><circle cx="440.7" cy="93.7" r="3.2"/><circle cx="441.3" cy="87.5" r="3.2"/><circle cx="441.8" cy="93.2" r="3.2"/><circle cx="442.4" cy="89.7" r="3.2"/><circle cx="443.0" cy="96.4" r="3.2"/><circle cx="443.5" cy="98.1" r="3.2"/><circle cx="444.1" cy="94.2" r="3.2"/><circle cx="444.7" cy="98.5" r="3.2"/><circle cx="445.2" cy="98.0" r="3.2"/><circle cx="445.8" cy="98.2" r="3.2"/><circle cx="446.4" cy="94.0" r="3.2"/><circle cx="446.9" cy="92.9" r="3.2"/><circle cx="447.5" cy="92.2" r="3.2"/><circle cx="448.1" cy="93.5" r="3.2"/><circle cx="448.6" cy="90.3" r="3.2"/><circle cx="449.2" cy="85.4" r="3.2"/><circle cx="449.8" cy="83.5" r="3.2"/><circle cx="450.3" cy="86.3" r="3.2"/><circle cx="450.9" cy="85.7" r="3.2"/><circle cx="451.4" cy="86.8" r="3.2"/><circle cx="452.0" cy="83.4" r="3.2"/><circle cx="452.6" cy="82.1" r="3.2"/><circle cx="453.1" cy="86.4" r="3.2"/><circle cx="453.7" cy="86.5" r="3.2"/><circle cx="454.3" cy="82.5" r="3.2"/><circle cx="454.8" cy="86.5" r="3.2"/><circle cx="455.4" cy="86.3" r="3.2"/><circle cx="456.0" cy="82.1" r="3.2"/><circle cx="456.5" cy="84.2" r="3.2"/><circle cx="457.1" cy="101.0" r="3.2"/><circle cx="457.7" cy="91.4" r="3.2"/><circle cx="458.2" cy="87.2" r="3.2"/><circle cx="458.8" cy="98.6" r="3.2"/><circle cx="459.4" cy="97.5" r="3.2"/><circle cx="459.9" cy="95.7" r="3.2"/><circle cx="460.5" cy="94.1" r="3.2"/><circle cx="461.1" cy="90.0" r="3.2"/><circle cx="461.6" cy="86.9" r="3.2"/><circle cx="462.2" cy="93.0" r="3.2"/><circle cx="462.7" cy="92.7" r="3.2"/><circle cx="463.3" cy="86.7" r="3.2"/><circle cx="463.9" cy="88.3" r="3.2"/><circle cx="464.4" cy="86.5" r="3.2"/><circle cx="465.0" cy="92.1" r="3.2"/><circle cx="465.6" cy="87.0" r="3.2"/><circle cx="466.1" cy="92.8" r="3.2"/><circle cx="466.7" cy="87.2" r="3.2"/><circle cx="467.3" cy="89.0" r="3.2"/><circle cx="467.8" cy="95.0" r="3.2"/><circle cx="468.4" cy="95.8" r="3.2"/><circle cx="469.0" cy="99.2" r="3.2"/><circle cx="469.5" cy="99.3" r="3.2"/><circle cx="470.1" cy="93.1" r="3.2"/><circle cx="470.7" cy="93.1" r="3.2"/><circle cx="471.2" cy="91.8" r="3.2"/><circle cx="471.8" cy="94.9" r="3.2"/><circle cx="472.4" cy="90.1" r="3.2"/><circle cx="472.9" cy="94.9" r="3.2"/><circle cx="473.5" cy="90.5" r="3.2"/><circle cx="474.0" cy="107.2" r="3.2"/><circle cx="474.6" cy="108.0" r="3.2"/><circle cx="475.2" cy="97.4" r="3.2"/><circle cx="475.7" cy="102.1" r="3.2"/><circle cx="476.3" cy="92.8" r="3.2"/><circle cx="476.9" cy="94.3" r="3.2"/><circle cx="477.4" cy="107.8" r="3.2"/><circle cx="478.0" cy="111.6" r="3.2"/><circle cx="478.6" cy="112.2" r="3.2"/><circle cx="479.1" cy="108.6" r="3.2"/><circle cx="479.7" cy="114.7" r="3.2"/><circle cx="480.3" cy="110.8" r="3.2"/><circle cx="480.8" cy="95.8" r="3.2"/><circle cx="481.4" cy="101.4" r="3.2"/><circle cx="482.0" cy="101.8" r="3.2"/><circle cx="482.5" cy="107.9" r="3.2"/><circle cx="483.1" cy="104.7" r="3.2"/><circle cx="483.6" cy="92.9" r="3.2"/><circle cx="484.2" cy="96.2" r="3.2"/><circle cx="484.8" cy="106.7" r="3.2"/><circle cx="485.3" cy="106.5" r="3.2"/><circle cx="485.9" cy="96.4" r="3.2"/><circle cx="486.5" cy="104.8" r="3.2"/><circle cx="487.0" cy="104.3" r="3.2"/><circle cx="487.6" cy="101.0" r="3.2"/><circle cx="488.2" cy="94.8" r="3.2"/><circle cx="488.7" cy="92.8" r="3.2"/><circle cx="489.3" cy="81.7" r="3.2"/><circle cx="489.9" cy="82.4" r="3.2"/><circle cx="490.4" cy="82.9" r="3.2"/><circle cx="491.0" cy="82.2" r="3.2"/><circle cx="491.6" cy="79.4" r="3.2"/><circle cx="492.1" cy="77.9" r="3.2"/><circle cx="492.7" cy="81.5" r="3.2"/><circle cx="493.3" cy="79.0" r="3.2"/><circle cx="493.8" cy="77.3" r="3.2"/><circle cx="494.4" cy="80.9" r="3.2"/><circle cx="494.9" cy="76.4" r="3.2"/><circle cx="495.5" cy="82.6" r="3.2"/><circle cx="496.1" cy="83.9" r="3.2"/><circle cx="496.6" cy="77.6" r="3.2"/><circle cx="497.2" cy="76.1" r="3.2"/><circle cx="497.8" cy="75.9" r="3.2"/><circle cx="498.3" cy="77.9" r="3.2"/><circle cx="498.9" cy="78.2" r="3.2"/><circle cx="499.5" cy="80.4" r="3.2"/><circle cx="500.0" cy="75.7" r="3.2"/><circle cx="500.6" cy="75.4" r="3.2"/><circle cx="501.2" cy="75.1" r="3.2"/><circle cx="501.7" cy="82.2" r="3.2"/><circle cx="502.3" cy="80.1" r="3.2"/><circle cx="502.9" cy="81.5" r="3.2"/><circle cx="503.4" cy="85.5" r="3.2"/><circle cx="504.0" cy="88.3" r="3.2"/><circle cx="504.6" cy="76.1" r="3.2"/><circle cx="505.1" cy="83.8" r="3.2"/><circle cx="505.7" cy="86.8" r="3.2"/><circle cx="506.2" cy="82.8" r="3.2"/><circle cx="506.8" cy="78.3" r="3.2"/><circle cx="507.4" cy="74.6" r="3.2"/><circle cx="507.9" cy="74.8" r="3.2"/><circle cx="508.5" cy="84.8" r="3.2"/><circle cx="509.1" cy="85.5" r="3.2"/><circle cx="509.6" cy="74.7" r="3.2"/><circle cx="510.2" cy="87.7" r="3.2"/><circle cx="510.8" cy="79.2" r="3.2"/><circle cx="511.3" cy="79.3" r="3.2"/><circle cx="511.9" cy="79.5" r="3.2"/><circle cx="512.5" cy="87.8" r="3.2"/><circle cx="513.0" cy="87.4" r="3.2"/><circle cx="513.6" cy="73.5" r="3.2"/><circle cx="514.2" cy="87.2" r="3.2"/><circle cx="514.7" cy="83.6" r="3.2"/><circle cx="515.3" cy="84.1" r="3.2"/><circle cx="515.9" cy="87.7" r="3.2"/><circle cx="516.4" cy="83.8" r="3.2"/><circle cx="517.0" cy="85.8" r="3.2"/><circle cx="517.5" cy="84.3" r="3.2"/><circle cx="518.1" cy="79.5" r="3.2"/><circle cx="518.7" cy="79.1" r="3.2"/><circle cx="519.2" cy="71.5" r="3.2"/><circle cx="519.8" cy="79.9" r="3.2"/><circle cx="520.4" cy="79.2" r="3.2"/><circle cx="520.9" cy="70.5" r="3.2"/><circle cx="521.5" cy="70.4" r="3.2"/><circle cx="522.1" cy="70.8" r="3.2"/><circle cx="522.6" cy="75.7" r="3.2"/><circle cx="523.2" cy="78.1" r="3.2"/><circle cx="523.8" cy="72.4" r="3.2"/><circle cx="524.3" cy="75.4" r="3.2"/><circle cx="524.9" cy="77.6" r="3.2"/><circle cx="525.5" cy="71.0" r="3.2"/><circle cx="526.0" cy="72.0" r="3.2"/><circle cx="526.6" cy="76.8" r="3.2"/><circle cx="527.2" cy="75.6" r="3.2"/><circle cx="527.7" cy="76.5" r="3.2"/><circle cx="528.3" cy="67.2" r="3.2"/><circle cx="528.9" cy="67.0" r="3.2"/><circle cx="529.4" cy="67.0" r="3.2"/><circle cx="530.0" cy="70.9" r="3.2"/><circle cx="530.5" cy="70.3" r="3.2"/><circle cx="531.1" cy="65.8" r="3.2"/><circle cx="531.7" cy="72.6" r="3.2"/><circle cx="532.2" cy="74.6" r="3.2"/><circle cx="532.8" cy="74.9" r="3.2"/><circle cx="533.4" cy="65.7" r="3.2"/><circle cx="533.9" cy="65.7" r="3.2"/><circle cx="534.5" cy="73.9" r="3.2"/><circle cx="535.1" cy="68.3" r="3.2"/><circle cx="535.6" cy="69.0" r="3.2"/><circle cx="536.2" cy="72.1" r="3.2"/><circle cx="536.8" cy="64.5" r="3.2"/><circle cx="537.3" cy="63.4" r="3.2"/><circle cx="537.9" cy="66.0" r="3.2"/><circle cx="538.5" cy="70.8" r="3.2"/><circle cx="539.0" cy="71.0" r="3.2"/><circle cx="539.6" cy="69.5" r="3.2"/><circle cx="540.1" cy="63.9" r="3.2"/><circle cx="540.7" cy="62.0" r="3.2"/><circle cx="541.3" cy="64.5" r="3.2"/><circle cx="541.8" cy="63.2" r="3.2"/><circle cx="542.4" cy="68.7" r="3.2"/><circle cx="543.0" cy="65.4" r="3.2"/><circle cx="543.5" cy="61.6" r="3.2"/><circle cx="544.1" cy="68.8" r="3.2"/><circle cx="544.7" cy="66.8" r="3.2"/><circle cx="545.2" cy="62.5" r="3.2"/><circle cx="545.8" cy="70.7" r="3.2"/><circle cx="546.4" cy="68.5" r="3.2"/><circle cx="546.9" cy="66.4" r="3.2"/><circle cx="547.5" cy="72.4" r="3.2"/><circle cx="548.1" cy="66.9" r="3.2"/><circle cx="548.6" cy="61.2" r="3.2"/><circle cx="549.2" cy="69.4" r="3.2"/><circle cx="549.8" cy="66.9" r="3.2"/><circle cx="550.3" cy="60.1" r="3.2"/><circle cx="550.9" cy="59.6" r="3.2"/><circle cx="551.5" cy="63.2" r="3.2"/><circle cx="552.0" cy="59.8" r="3.2"/><circle cx="552.6" cy="59.3" r="3.2"/><circle cx="553.1" cy="63.5" r="3.2"/><circle cx="553.7" cy="64.7" r="3.2"/><circle cx="554.3" cy="59.6" r="3.2"/><circle cx="554.8" cy="60.5" r="3.2"/><circle cx="555.4" cy="62.0" r="3.2"/><circle cx="556.0" cy="63.8" r="3.2"/><circle cx="556.5" cy="61.8" r="3.2"/><circle cx="557.1" cy="60.6" r="3.2"/><circle cx="557.7" cy="59.1" r="3.2"/><circle cx="558.2" cy="58.6" r="3.2"/><circle cx="558.8" cy="60.0" r="3.2"/><circle cx="559.4" cy="58.7" r="3.2"/><circle cx="559.9" cy="63.3" r="3.2"/><circle cx="560.5" cy="58.8" r="3.2"/><circle cx="561.1" cy="63.3" r="3.2"/><circle cx="561.6" cy="61.1" r="3.2"/><circle cx="562.2" cy="60.4" r="3.2"/><circle cx="562.8" cy="60.0" r="3.2"/><circle cx="563.3" cy="60.0" r="3.2"/><circle cx="563.9" cy="61.6" r="3.2"/><circle cx="564.4" cy="63.2" r="3.2"/><circle cx="565.0" cy="61.6" r="3.2"/><circle cx="565.6" cy="61.0" r="3.2"/><circle cx="566.1" cy="63.4" r="3.2"/><circle cx="566.7" cy="61.7" r="3.2"/><circle cx="567.3" cy="59.6" r="3.2"/><circle cx="567.8" cy="58.3" r="3.2"/><circle cx="568.4" cy="58.3" r="3.2"/><circle cx="569.0" cy="58.0" r="3.2"/><circle cx="569.5" cy="63.0" r="3.2"/><circle cx="570.1" cy="58.1" r="3.2"/><circle cx="570.7" cy="58.6" r="3.2"/><circle cx="571.2" cy="58.2" r="3.2"/><circle cx="571.8" cy="61.1" r="3.2"/><circle cx="572.4" cy="57.9" r="3.2"/><circle cx="572.9" cy="62.6" r="3.2"/><circle cx="573.5" cy="60.1" r="3.2"/><circle cx="574.0" cy="62.6" r="3.2"/><circle cx="574.6" cy="59.6" r="3.2"/><circle cx="575.2" cy="60.4" r="3.2"/><circle cx="575.7" cy="58.9" r="3.2"/><circle cx="576.3" cy="62.8" r="3.2"/><circle cx="576.9" cy="62.7" r="3.2"/><circle cx="577.4" cy="62.8" r="3.2"/><circle cx="578.0" cy="59.4" r="3.2"/><circle cx="578.6" cy="61.4" r="3.2"/><circle cx="579.1" cy="57.9" r="3.2"/><circle cx="579.7" cy="62.6" r="3.2"/><circle cx="580.3" cy="58.1" r="3.2"/><circle cx="580.8" cy="58.0" r="3.2"/><circle cx="581.4" cy="59.2" r="3.2"/><circle cx="582.0" cy="63.2" r="3.2"/><circle cx="582.5" cy="63.0" r="3.2"/><circle cx="583.1" cy="61.1" r="3.2"/><circle cx="583.7" cy="58.7" r="3.2"/><circle cx="584.2" cy="65.0" r="3.2"/><circle cx="584.8" cy="59.8" r="3.2"/><circle cx="585.4" cy="65.3" r="3.2"/><circle cx="585.9" cy="68.8" r="3.2"/><circle cx="586.5" cy="61.9" r="3.2"/><circle cx="587.0" cy="66.7" r="3.2"/><circle cx="587.6" cy="62.9" r="3.2"/><circle cx="588.2" cy="75.1" r="3.2"/><circle cx="588.7" cy="63.0" r="3.2"/><circle cx="589.3" cy="65.6" r="3.2"/><circle cx="589.9" cy="63.0" r="3.2"/><circle cx="590.4" cy="70.8" r="3.2"/><circle cx="591.0" cy="61.6" r="3.2"/><circle cx="591.6" cy="63.7" r="3.2"/><circle cx="592.1" cy="68.7" r="3.2"/><circle cx="592.7" cy="60.6" r="3.2"/><circle cx="593.3" cy="62.1" r="3.2"/><circle cx="593.8" cy="70.5" r="3.2"/><circle cx="594.4" cy="59.4" r="3.2"/><circle cx="595.0" cy="66.6" r="3.2"/><circle cx="595.5" cy="69.0" r="3.2"/><circle cx="596.1" cy="69.5" r="3.2"/><circle cx="596.6" cy="69.6" r="3.2"/><circle cx="597.2" cy="68.3" r="3.2"/><circle cx="597.8" cy="58.1" r="3.2"/><circle cx="598.3" cy="60.5" r="3.2"/><circle cx="598.9" cy="63.8" r="3.2"/><circle cx="599.5" cy="69.2" r="3.2"/><circle cx="600.0" cy="59.9" r="3.2"/><circle cx="600.6" cy="73.2" r="3.2"/><circle cx="601.2" cy="61.1" r="3.2"/><circle cx="601.7" cy="62.2" r="3.2"/><circle cx="602.3" cy="70.9" r="3.2"/><circle cx="602.9" cy="65.8" r="3.2"/><circle cx="603.4" cy="76.9" r="3.2"/><circle cx="604.0" cy="78.0" r="3.2"/><circle cx="604.6" cy="67.8" r="3.2"/><circle cx="605.1" cy="66.3" r="3.2"/><circle cx="605.7" cy="67.8" r="3.2"/><circle cx="606.3" cy="78.1" r="3.2"/><circle cx="606.8" cy="75.1" r="3.2"/><circle cx="607.4" cy="77.1" r="3.2"/><circle cx="608.0" cy="69.1" r="3.2"/><circle cx="608.5" cy="77.6" r="3.2"/><circle cx="609.1" cy="77.5" r="3.2"/><circle cx="609.6" cy="70.2" r="3.2"/><circle cx="610.2" cy="70.5" r="3.2"/><circle cx="610.8" cy="77.2" r="3.2"/><circle cx="611.3" cy="67.1" r="3.2"/><circle cx="611.9" cy="73.9" r="3.2"/><circle cx="612.5" cy="67.8" r="3.2"/><circle cx="613.0" cy="74.2" r="3.2"/><circle cx="613.6" cy="68.3" r="3.2"/><circle cx="614.2" cy="70.6" r="3.2"/><circle cx="614.7" cy="69.9" r="3.2"/><circle cx="615.3" cy="70.6" r="3.2"/><circle cx="615.9" cy="71.1" r="3.2"/><circle cx="616.4" cy="82.4" r="3.2"/><circle cx="617.0" cy="84.7" r="3.2"/><circle cx="617.6" cy="74.2" r="3.2"/><circle cx="618.1" cy="87.9" r="3.2"/><circle cx="618.7" cy="79.2" r="3.2"/><circle cx="619.2" cy="81.6" r="3.2"/><circle cx="619.8" cy="77.0" r="3.2"/><circle cx="620.4" cy="72.5" r="3.2"/><circle cx="620.9" cy="80.7" r="3.2"/><circle cx="621.5" cy="75.3" r="3.2"/><circle cx="622.1" cy="71.7" r="3.2"/><circle cx="622.6" cy="79.7" r="3.2"/><circle cx="623.2" cy="81.5" r="3.2"/><circle cx="623.8" cy="85.3" r="3.2"/><circle cx="624.3" cy="72.0" r="3.2"/><circle cx="624.9" cy="94.1" r="3.2"/><circle cx="625.5" cy="97.0" r="3.2"/><circle cx="626.0" cy="96.3" r="3.2"/><circle cx="626.6" cy="75.0" r="3.2"/><circle cx="627.2" cy="90.6" r="3.2"/><circle cx="627.7" cy="79.5" r="3.2"/><circle cx="628.3" cy="73.1" r="3.2"/><circle cx="628.9" cy="72.9" r="3.2"/><circle cx="629.4" cy="72.1" r="3.2"/><circle cx="630.0" cy="74.1" r="3.2"/><circle cx="630.5" cy="79.1" r="3.2"/><circle cx="631.1" cy="71.6" r="3.2"/><circle cx="631.7" cy="74.5" r="3.2"/><circle cx="632.2" cy="76.8" r="3.2"/><circle cx="632.8" cy="66.0" r="3.2"/><circle cx="633.4" cy="69.8" r="3.2"/><circle cx="633.9" cy="71.6" r="3.2"/><circle cx="634.5" cy="72.3" r="3.2"/><circle cx="635.1" cy="79.6" r="3.2"/><circle cx="635.6" cy="75.6" r="3.2"/><circle cx="636.2" cy="98.2" r="3.2"/><circle cx="636.8" cy="86.4" r="3.2"/><circle cx="637.3" cy="82.9" r="3.2"/><circle cx="637.9" cy="90.6" r="3.2"/><circle cx="638.5" cy="78.8" r="3.2"/><circle cx="639.0" cy="87.6" r="3.2"/><circle cx="639.6" cy="78.3" r="3.2"/><circle cx="640.2" cy="80.5" r="3.2"/><circle cx="640.7" cy="81.4" r="3.2"/><circle cx="641.3" cy="87.9" r="3.2"/><circle cx="641.8" cy="79.1" r="3.2"/><circle cx="642.4" cy="88.0" r="3.2"/><circle cx="643.0" cy="83.8" r="3.2"/><circle cx="643.5" cy="79.6" r="3.2"/><circle cx="644.1" cy="83.8" r="3.2"/><circle cx="644.7" cy="80.1" r="3.2"/><circle cx="645.2" cy="87.7" r="3.2"/><circle cx="645.8" cy="87.4" r="3.2"/><circle cx="646.4" cy="86.1" r="3.2"/><circle cx="646.9" cy="87.6" r="3.2"/><circle cx="647.5" cy="83.7" r="3.2"/><circle cx="648.1" cy="80.2" r="3.2"/><circle cx="648.6" cy="81.5" r="3.2"/><circle cx="649.2" cy="92.5" r="3.2"/><circle cx="649.8" cy="88.6" r="3.2"/><circle cx="650.3" cy="80.6" r="3.2"/><circle cx="650.9" cy="81.5" r="3.2"/><circle cx="651.5" cy="89.9" r="3.2"/><circle cx="652.0" cy="98.7" r="3.2"/><circle cx="652.6" cy="86.4" r="3.2"/><circle cx="653.1" cy="98.4" r="3.2"/><circle cx="653.7" cy="85.6" r="3.2"/><circle cx="654.3" cy="99.4" r="3.2"/><circle cx="654.8" cy="85.4" r="3.2"/><circle cx="655.4" cy="91.6" r="3.2"/><circle cx="656.0" cy="82.7" r="3.2"/><circle cx="656.5" cy="79.7" r="3.2"/><circle cx="657.1" cy="84.1" r="3.2"/><circle cx="657.7" cy="84.2" r="3.2"/><circle cx="658.2" cy="87.3" r="3.2"/><circle cx="658.8" cy="92.3" r="3.2"/><circle cx="659.4" cy="84.8" r="3.2"/><circle cx="659.9" cy="100.8" r="3.2"/><circle cx="660.5" cy="91.1" r="3.2"/><circle cx="661.1" cy="90.9" r="3.2"/><circle cx="661.6" cy="82.1" r="3.2"/><circle cx="662.2" cy="83.1" r="3.2"/><circle cx="662.8" cy="85.6" r="3.2"/><circle cx="663.3" cy="98.4" r="3.2"/><circle cx="663.9" cy="97.5" r="3.2"/><circle cx="664.5" cy="97.3" r="3.2"/><circle cx="665.0" cy="83.0" r="3.2"/><circle cx="665.6" cy="91.1" r="3.2"/><circle cx="666.1" cy="81.3" r="3.2"/><circle cx="666.7" cy="80.4" r="3.2"/><circle cx="667.3" cy="80.0" r="3.2"/><circle cx="667.8" cy="79.2" r="3.2"/><circle cx="668.4" cy="80.5" r="3.2"/><circle cx="669.0" cy="82.1" r="3.2"/><circle cx="669.5" cy="77.8" r="3.2"/><circle cx="670.1" cy="93.3" r="3.2"/><circle cx="670.7" cy="76.8" r="3.2"/><circle cx="671.2" cy="78.6" r="3.2"/><circle cx="671.8" cy="78.1" r="3.2"/><circle cx="672.4" cy="100.6" r="3.2"/><circle cx="672.9" cy="104.0" r="3.2"/><circle cx="673.5" cy="105.7" r="3.2"/><circle cx="674.1" cy="108.1" r="3.2"/><circle cx="674.6" cy="81.6" r="3.2"/><circle cx="675.2" cy="104.8" r="3.2"/><circle cx="675.8" cy="93.2" r="3.2"/><circle cx="676.3" cy="81.3" r="3.2"/><circle cx="676.9" cy="95.4" r="3.2"/><circle cx="677.4" cy="92.0" r="3.2"/><circle cx="678.0" cy="85.0" r="3.2"/><circle cx="678.6" cy="94.1" r="3.2"/><circle cx="679.1" cy="79.5" r="3.2"/><circle cx="679.7" cy="76.6" r="3.2"/><circle cx="680.3" cy="89.9" r="3.2"/><circle cx="680.8" cy="77.8" r="3.2"/><circle cx="681.4" cy="85.4" r="3.2"/><circle cx="682.0" cy="83.3" r="3.2"/></g>
<polyline fill="none" stroke="#ff0000" stroke-width="0.55" stroke-linejoin="bevel" points="421.5,72.0 422.1,73.4 422.6,73.7 423.2,72.3 423.8,70.6 424.3,73.1 424.9,70.7 425.5,71.3 426.0,73.2 426.6,75.1 427.1,74.7 427.7,78.2 428.3,77.9 428.8,80.4 429.4,82.3 430.0,82.4 430.5,80.0 431.1,82.2 431.7,85.9 432.2,85.0 432.8,87.1 433.4,83.9 433.9,86.2 434.5,84.8 435.1,86.6 435.6,82.3 436.2,86.9 436.8,86.8 437.3,83.6 437.9,89.8 438.4,87.9 439.0,89.1 439.6,93.0 440.1,88.4 440.7,93.1 441.3,90.5 441.8,93.1 442.4,90.9 443.0,95.0 443.5,94.3 444.1,94.3 444.7,96.9 445.2,94.5 445.8,97.8 446.4,92.3 446.9,92.4 447.5,87.1 448.1,89.5 448.6,88.3 449.2,84.9 449.8,85.6 450.3,86.1 450.9,85.3 451.4,83.7 452.0,89.6 452.6,82.3 453.1,84.0 453.7,84.2 454.3,78.2 454.8,86.1 455.4,85.3 456.0,85.3 456.5,85.6 457.1,95.7 457.7,92.0 458.2,89.7 458.8,95.7 459.4,93.9 459.9,91.3 460.5,90.7 461.1,88.3 461.6,87.8 462.2,90.8 462.7,92.4 463.3,90.0 463.9,88.1 464.4,90.1 465.0,89.8 465.6,88.8 466.1,91.6 466.7,89.5 467.3,90.6 467.8,92.1 468.4,93.4 469.0,94.6 469.5,95.5 470.1,92.0 470.7,92.7 471.2,92.2 471.8,91.3 472.4,94.2 472.9,95.3 473.5,92.1 474.0,100.2 474.6,102.3 475.2,90.8 475.7,99.3 476.3,96.4 476.9,96.5 477.4,107.3 478.0,108.3 478.6,107.0 479.1,105.6 479.7,112.6 480.3,107.8 480.8,98.1 481.4,100.5 482.0,100.4 482.5,103.0 483.1,106.0 483.6,97.4 484.2,97.7 484.8,102.7 485.3,101.4 485.9,98.4 486.5,99.7 487.0,99.9 487.6,98.5 488.2,95.3 488.7,89.8 489.3,84.2 489.9,81.6 490.4,81.2 491.0,79.9 491.6,85.0 492.1,77.3 492.7,80.7 493.3,80.5 493.8,80.4 494.4,77.6 494.9,78.6 495.5,82.1 496.1,80.6 496.6,79.3 497.2,78.7 497.8,80.1 498.3,79.1 498.9,78.8 499.5,81.3 500.0,78.9 500.6,77.1 501.2,81.0 501.7,82.5 502.3,81.7 502.9,79.1 503.4,85.6 504.0,85.1 504.6,78.2 505.1,79.2 505.7,83.9 506.2,76.9 506.8,79.1 507.4,74.8 507.9,77.2 508.5,82.1 509.1,81.3 509.6,77.6 510.2,82.8 510.8,77.7 511.3,80.4 511.9,80.3 512.5,85.2 513.0,84.0 513.6,75.8 514.2,83.3 514.7,75.7 515.3,79.3 515.9,81.8 516.4,79.0 517.0,80.8 517.5,76.8 518.1,78.2 518.7,77.9 519.2,70.1 519.8,75.4 520.4,83.0 520.9,67.3 521.5,73.6 522.1,71.0 522.6,70.1 523.2,74.1 523.8,81.0 524.3,72.1 524.9,74.1 525.5,70.8 526.0,72.0 526.6,72.8 527.2,73.6 527.7,72.7 528.3,69.9 528.9,68.9 529.4,68.7 530.0,68.6 530.5,69.2 531.1,67.5 531.7,72.5 532.2,70.6 532.8,71.3 533.4,69.1 533.9,66.7 534.5,69.7 535.1,66.3 535.6,69.9 536.2,68.6 536.8,65.5 537.3,65.3 537.9,64.7 538.5,68.5 539.0,68.3 539.6,66.3 540.1,63.6 540.7,64.5 541.3,63.9 541.8,63.7 542.4,67.4 543.0,65.5 543.5,61.6 544.1,66.0 544.7,66.0 545.2,62.3 545.8,68.1 546.4,68.7 546.9,65.6 547.5,67.3 548.1,64.1 548.6,64.4 549.2,66.0 549.8,67.4 550.3,62.1 550.9,63.1 551.5,63.8 552.0,62.6 552.6,56.1 553.1,62.3 553.7,62.6 554.3,60.1 554.8,60.2 555.4,61.4 556.0,63.3 556.5,62.9 557.1,59.5 557.7,59.0 558.2,57.8 558.8,60.9 559.4,59.7 559.9,60.9 560.5,60.8 561.1,62.3 561.6,61.9 562.2,59.9 562.8,61.4 563.3,60.4 563.9,59.4 564.4,61.5 565.0,59.0 565.6,59.2 566.1,61.4 566.7,60.6 567.3,58.7 567.8,58.4 568.4,59.3 569.0,61.5 569.5,59.2 570.1,56.7 570.7,60.4 571.2,59.7 571.8,61.3 572.4,60.2 572.9,59.0 573.5,60.2 574.0,61.1 574.6,60.3 575.2,58.1 575.7,58.5 576.3,60.0 576.9,61.4 577.4,61.5 578.0,65.5 578.6,61.5 579.1,54.8 579.7,60.8 580.3,59.9 580.8,60.6 581.4,57.4 582.0,61.6 582.5,60.0 583.1,61.3 583.7,57.8 584.2,63.8 584.8,62.3 585.4,64.9 585.9,64.9 586.5,64.3 587.0,67.1 587.6,64.4 588.2,70.5 588.7,66.7 589.3,67.4 589.9,67.5 590.4,69.8 591.0,61.8 591.6,66.1 592.1,65.8 592.7,63.4 593.3,61.9 593.8,66.9 594.4,62.5 595.0,63.4 595.5,65.4 596.1,66.5 596.6,66.5 597.2,62.1 597.8,62.2 598.3,63.1 598.9,65.1 599.5,63.2 600.0,55.9 600.6,71.1 601.2,61.9 601.7,64.7 602.3,71.1 602.9,71.0 603.4,74.0 604.0,72.8 604.6,71.0 605.1,67.1 605.7,77.7 606.3,73.9 606.8,72.6 607.4,72.5 608.0,71.3 608.5,71.8 609.1,73.4 609.6,75.1 610.2,70.3 610.8,72.4 611.3,68.4 611.9,72.3 612.5,75.0 613.0,73.0 613.6,69.7 614.2,73.0 614.7,69.7 615.3,74.6 615.9,78.1 616.4,82.6 617.0,78.8 617.6,70.2 618.1,78.3 618.7,78.3 619.2,74.6 619.8,74.1 620.4,73.0 620.9,80.9 621.5,77.7 622.1,77.0 622.6,79.1 623.2,79.1 623.8,81.2 624.3,74.8 624.9,86.1 625.5,84.7 626.0,88.5 626.6,77.0 627.2,84.9 627.7,79.8 628.3,76.1 628.9,76.1 629.4,74.8 630.0,76.2 630.5,74.6 631.1,78.4 631.7,74.6 632.2,72.4 632.8,69.9 633.4,71.2 633.9,74.5 634.5,75.1 635.1,78.3 635.6,75.4 636.2,86.2 636.8,83.3 637.3,89.3 637.9,85.5 638.5,82.9 639.0,84.7 639.6,82.6 640.2,81.4 640.7,78.0 641.3,84.5 641.8,80.3 642.4,83.4 643.0,88.0 643.5,82.7 644.1,84.0 644.7,79.7 645.2,84.1 645.8,85.7 646.4,83.7 646.9,85.4 647.5,85.3 648.1,82.4 648.6,83.0 649.2,89.9 649.8,88.5 650.3,84.7 650.9,84.3 651.5,87.8 652.0,96.5 652.6,88.4 653.1,92.2 653.7,88.1 654.3,94.7 654.8,87.2 655.4,89.7 656.0,86.1 656.5,85.5 657.1,84.8 657.7,85.4 658.2,89.3 658.8,89.7 659.4,85.1 659.9,93.9 660.5,86.4 661.1,96.5 661.6,86.0 662.2,85.8 662.8,86.7 663.3,91.8 663.9,91.6 664.5,91.0 665.0,85.7 665.6,89.4 666.1,78.9 666.7,83.4 667.3,76.0 667.8,81.4 668.4,83.4 669.0,84.8 669.5,82.0 670.1,88.3 670.7,81.5 671.2,83.4 671.8,84.7 672.4,93.8 672.9,92.6 673.5,90.5 674.1,98.2 674.6,88.4 675.2,95.5 675.8,89.9 676.3,85.4 676.9,95.6 677.4,86.4 678.0,85.4 678.6,87.0 679.1,79.5 679.7,81.7 680.3,81.6 680.8,81.4 681.4,80.8 682.0,80.6"/>
<polyline fill="none" stroke="#000000" stroke-width="0.45" stroke-linejoin="bevel" points="421.5,73.4 422.1,74.3 422.6,67.6 423.2,72.6 423.8,67.7 424.3,73.7 424.9,72.3 425.5,71.4 426.0,72.7 426.6,73.5 427.1,74.8 427.7,78.0 428.3,78.2 428.8,80.0 429.4,80.9 430.0,81.9 430.5,80.1 431.1,82.2 431.7,87.5 432.2,85.3 432.8,86.6 433.4,82.5 433.9,87.0 434.5,80.6 435.1,85.2 435.6,82.4 436.2,86.7 436.8,87.4 437.3,82.5 437.9,95.9 438.4,86.0 439.0,91.2 439.6,93.1 440.1,88.5 440.7,91.5 441.3,90.7 441.8,92.4 442.4,91.5 443.0,95.2 443.5,95.1 444.1,92.5 444.7,93.5 445.2,94.7 445.8,96.4 446.4,90.6 446.9,92.8 447.5,86.3 448.1,91.2 448.6,86.9 449.2,85.0 449.8,85.1 450.3,85.4 450.9,85.2 451.4,82.8 452.0,89.6 452.6,82.1 453.1,84.7 453.7,75.7 454.3,82.7 454.8,88.0 455.4,85.0 456.0,85.8 456.5,87.6 457.1,94.6 457.7,91.9 458.2,90.0 458.8,95.5 459.4,95.0 459.9,91.0 460.5,91.1 461.1,88.0 461.6,83.8 462.2,92.3 462.7,92.1 463.3,89.4 463.9,87.9 464.4,88.2 465.0,89.0 465.6,85.4 466.1,93.2 466.7,88.8 467.3,90.4 467.8,91.3 468.4,93.6 469.0,94.6 469.5,96.2 470.1,91.2 470.7,91.9 471.2,91.7 471.8,91.9 472.4,92.4 472.9,96.0 473.5,92.7 474.0,100.2 474.6,102.1 475.2,92.7 475.7,98.7 476.3,95.2 476.9,97.8 477.4,105.8 478.0,107.9 478.6,107.1 479.1,106.3 479.7,108.4 480.3,107.8 480.8,99.3 481.4,100.7 482.0,100.4 482.5,102.2 483.1,103.7 483.6,95.2 484.2,96.3 484.8,101.9 485.3,100.6 485.9,96.6 486.5,99.6 487.0,98.4 487.6,99.2 488.2,93.6 488.7,89.4 489.3,82.1 489.9,80.4 490.4,80.5 491.0,78.7 491.6,84.8 492.1,77.4 492.7,81.0 493.3,78.9 493.8,79.1 494.4,77.7 494.9,80.3 495.5,80.8 496.1,80.3 496.6,77.5 497.2,79.3 497.8,79.2 498.3,80.7 498.9,78.5 499.5,80.3 500.0,80.2 500.6,75.6 501.2,78.0 501.7,80.5 502.3,81.8 502.9,80.8 503.4,85.1 504.0,85.4 504.6,78.0 505.1,78.5 505.7,75.1 506.2,76.9 506.8,78.1 507.4,73.7 507.9,76.4 508.5,81.9 509.1,82.0 509.6,77.6 510.2,81.9 510.8,77.5 511.3,78.6 511.9,78.4 512.5,83.6 513.0,83.2 513.6,75.7 514.2,83.0 514.7,81.0 515.3,80.1 515.9,79.9 516.4,81.0 517.0,81.0 517.5,77.7 518.1,78.7 518.7,80.3 519.2,71.5 519.8,74.9 520.4,81.4 520.9,69.0 521.5,67.8 522.1,69.4 522.6,70.5 523.2,73.0 523.8,73.7 524.3,74.5 524.9,74.7 525.5,69.3 526.0,71.8 526.6,72.3 527.2,73.1 527.7,71.7 528.3,67.0 528.9,68.0 529.4,66.9 530.0,70.5 530.5,68.0 531.1,68.1 531.7,70.3 532.2,71.1 532.8,71.1 533.4,68.1 533.9,64.9 534.5,68.4 535.1,67.3 535.6,68.7 536.2,68.2 536.8,65.1 537.3,63.1 537.9,63.9 538.5,67.9 539.0,70.4 539.6,65.9 540.1,62.8 540.7,62.1 541.3,65.1 541.8,65.1 542.4,66.2 543.0,65.8 543.5,63.2 544.1,67.1 544.7,66.1 545.2,60.4 545.8,68.2 546.4,67.5 546.9,66.9 547.5,69.0 548.1,63.8 548.6,64.9 549.2,65.9 549.8,64.9 550.3,61.6 550.9,54.7 551.5,62.4 552.0,61.2 552.6,56.7 553.1,61.7 553.7,61.8 554.3,60.9 554.8,60.8 555.4,61.3 556.0,61.0 556.5,61.9 557.1,59.9 557.7,58.0 558.2,58.6 558.8,60.0 559.4,59.7 559.9,59.8 560.5,60.3 561.1,61.9 561.6,56.0 562.2,60.1 562.8,58.9 563.3,61.3 563.9,58.7 564.4,61.6 565.0,58.3 565.6,60.5 566.1,58.9 566.7,60.0 567.3,58.1 567.8,56.4 568.4,61.7 569.0,59.0 569.5,60.3 570.1,57.9 570.7,61.3 571.2,59.5 571.8,61.1 572.4,59.9 572.9,59.3 573.5,58.9 574.0,61.6 574.6,60.0 575.2,57.8 575.7,58.5 576.3,60.8 576.9,61.4 577.4,60.0 578.0,60.8 578.6,59.7 579.1,56.4 579.7,62.8 580.3,59.6 580.8,58.2 581.4,51.6 582.0,62.5 582.5,57.4 583.1,60.3 583.7,56.3 584.2,63.6 584.8,61.8 585.4,65.7 585.9,67.0 586.5,64.1 587.0,69.0 587.6,63.1 588.2,69.4 588.7,59.1 589.3,66.7 589.9,67.0 590.4,62.8 591.0,62.4 591.6,67.1 592.1,67.2 592.7,62.2 593.3,60.9 593.8,62.1 594.4,63.5 595.0,63.8 595.5,59.6 596.1,66.1 596.6,65.5 597.2,62.9 597.8,65.6 598.3,61.5 598.9,66.3 599.5,63.6 600.0,55.3 600.6,67.5 601.2,63.1 601.7,62.9 602.3,69.1 602.9,69.6 603.4,69.6 604.0,72.8 604.6,67.4 605.1,68.6 605.7,66.2 606.3,74.1 606.8,74.2 607.4,72.7 608.0,70.4 608.5,71.4 609.1,72.8 609.6,75.1 610.2,71.5 610.8,73.6 611.3,70.5 611.9,70.9 612.5,71.5 613.0,71.3 613.6,66.9 614.2,73.8 614.7,65.5 615.3,70.5 615.9,71.2 616.4,81.0 617.0,80.0 617.6,71.2 618.1,83.7 618.7,76.7 619.2,77.9 619.8,76.0 620.4,72.3 620.9,79.9 621.5,77.6 622.1,75.2 622.6,74.6 623.2,78.4 623.8,81.4 624.3,75.9 624.9,85.7 625.5,85.1 626.0,87.0 626.6,78.6 627.2,84.0 627.7,79.1 628.3,75.0 628.9,74.3 629.4,73.5 630.0,75.9 630.5,75.7 631.1,73.5 631.7,74.2 632.2,72.0 632.8,69.3 633.4,70.2 633.9,73.0 634.5,74.1 635.1,76.8 635.6,77.0 636.2,85.0 636.8,82.9 637.3,82.6 637.9,84.9 638.5,83.9 639.0,84.7 639.6,83.2 640.2,80.0 640.7,79.9 641.3,84.4 641.8,80.5 642.4,83.4 643.0,80.9 643.5,82.2 644.1,83.1 644.7,79.0 645.2,83.5 645.8,85.4 646.4,84.9 646.9,84.7 647.5,83.7 648.1,81.3 648.6,82.1 649.2,89.3 649.8,91.7 650.3,84.2 650.9,84.6 651.5,86.4 652.0,97.0 652.6,87.7 653.1,91.6 653.7,87.4 654.3,91.6 654.8,89.3 655.4,89.6 656.0,84.6 656.5,85.4 657.1,80.8 657.7,85.4 658.2,87.4 658.8,88.1 659.4,84.8 659.9,93.2 660.5,88.6 661.1,93.0 661.6,86.1 662.2,86.5 662.8,85.4 663.3,92.7 663.9,92.0 664.5,91.1 665.0,87.2 665.6,87.9 666.1,77.8 666.7,83.7 667.3,76.3 667.8,82.5 668.4,83.7 669.0,82.8 669.5,79.9 670.1,88.6 670.7,80.6 671.2,81.1 671.8,82.6 672.4,95.2 672.9,93.9 673.5,91.0 674.1,100.4 674.6,88.5 675.2,94.4 675.8,90.6 676.3,85.7 676.9,88.3 677.4,87.1 678.0,85.0 678.6,85.7 679.1,79.5 679.7,80.8 680.3,83.3 680.8,79.6 681.4,81.9 682.0,81.5"/>
<g shape-rendering="auto"><path d="M416.9 36.5H681.7" stroke="#333" stroke-width="1.0"/><path d="M681.7 36.5V180.5" stroke="#444" stroke-width="1.0"/><path d="M421.5 36.5V184.8" stroke="#1a1a1a" stroke-width="1.1"/><path d="M416.9 180.5H681.7" stroke="#1a1a1a" stroke-width="1.1"/><path d="M416.9 159.9H421.5M416.9 139.4H421.5M416.9 118.8H421.5M416.9 98.2H421.5M416.9 77.6H421.5M416.9 57.1H421.5M478.0 180.5V184.8M534.5 180.5V184.8M591.0 180.5V184.8M647.5 180.5V184.8" stroke="#1a1a1a" stroke-width="1" fill="none"/></g>
<text transform="translate(409.7 185.4) scale(0.970 1)" text-anchor="end" font-size="14.2">0</text><text transform="translate(409.7 164.8) scale(0.970 1)" text-anchor="end" font-size="14.2">5</text><text transform="translate(409.7 144.3) scale(0.970 1)" text-anchor="end" font-size="14.2">10</text><text transform="translate(409.7 123.7) scale(0.970 1)" text-anchor="end" font-size="14.2">15</text><text transform="translate(409.7 103.1) scale(0.970 1)" text-anchor="end" font-size="14.2">20</text><text transform="translate(409.7 82.5) scale(0.970 1)" text-anchor="end" font-size="14.2">25</text><text transform="translate(409.7 62.0) scale(0.970 1)" text-anchor="end" font-size="14.2">30</text><text transform="translate(409.7 41.4) scale(0.970 1)" text-anchor="end" font-size="14.2">35</text><text transform="translate(421.8 201.1) scale(0.970 1)" text-anchor="middle" font-size="14.2">0</text><text transform="translate(478.3 201.1) scale(0.970 1)" text-anchor="middle" font-size="14.2">100</text><text transform="translate(534.8 201.1) scale(0.970 1)" text-anchor="middle" font-size="14.2">200</text><text transform="translate(591.3 201.1) scale(0.970 1)" text-anchor="middle" font-size="14.2">300</text><text transform="translate(647.8 201.1) scale(0.970 1)" text-anchor="middle" font-size="14.2">400</text><text transform="translate(532.8 16.3)" text-anchor="middle" font-size="13.8">10 cm</text><text transform="translate(553.3 225.5) scale(0.985 1)" text-anchor="middle" font-size="15.3">Days</text><text transform="translate(376.8 105.8) rotate(-90) scale(0.990 1)" text-anchor="middle" font-size="15.8">Soil Temperature (C)</text>
<g fill="#fff400" stroke="#000" stroke-width="1.25"><circle cx="51.6" cy="353.6" r="3.2"/><circle cx="52.2" cy="352.1" r="3.2"/><circle cx="52.8" cy="348.3" r="3.2"/><circle cx="53.4" cy="346.5" r="3.2"/><circle cx="54.0" cy="348.6" r="3.2"/><circle cx="54.6" cy="344.5" r="3.2"/><circle cx="55.2" cy="342.8" r="3.2"/><circle cx="55.8" cy="347.5" r="3.2"/><circle cx="56.4" cy="344.0" r="3.2"/><circle cx="57.0" cy="347.0" r="3.2"/><circle cx="57.6" cy="352.0" r="3.2"/><circle cx="58.2" cy="355.1" r="3.2"/><circle cx="58.8" cy="360.9" r="3.2"/><circle cx="59.5" cy="354.5" r="3.2"/><circle cx="60.1" cy="364.0" r="3.2"/><circle cx="60.7" cy="360.3" r="3.2"/><circle cx="61.3" cy="367.9" r="3.2"/><circle cx="61.9" cy="370.6" r="3.2"/><circle cx="62.5" cy="366.6" r="3.2"/><circle cx="63.1" cy="367.0" r="3.2"/><circle cx="63.7" cy="360.8" r="3.2"/><circle cx="64.3" cy="364.9" r="3.2"/><circle cx="64.9" cy="360.8" r="3.2"/><circle cx="65.5" cy="366.0" r="3.2"/><circle cx="66.1" cy="365.6" r="3.2"/><circle cx="66.7" cy="365.0" r="3.2"/><circle cx="67.3" cy="362.6" r="3.2"/><circle cx="67.9" cy="368.5" r="3.2"/><circle cx="68.5" cy="368.8" r="3.2"/><circle cx="69.1" cy="363.0" r="3.2"/><circle cx="69.7" cy="362.6" r="3.2"/><circle cx="70.3" cy="372.1" r="3.2"/><circle cx="70.9" cy="376.5" r="3.2"/><circle cx="71.5" cy="367.9" r="3.2"/><circle cx="72.1" cy="373.4" r="3.2"/><circle cx="72.7" cy="370.9" r="3.2"/><circle cx="73.3" cy="372.3" r="3.2"/><circle cx="73.9" cy="380.3" r="3.2"/><circle cx="74.6" cy="376.6" r="3.2"/><circle cx="75.2" cy="378.1" r="3.2"/><circle cx="75.8" cy="384.1" r="3.2"/><circle cx="76.4" cy="379.1" r="3.2"/><circle cx="77.0" cy="380.1" r="3.2"/><circle cx="77.6" cy="384.4" r="3.2"/><circle cx="78.2" cy="378.8" r="3.2"/><circle cx="78.8" cy="377.4" r="3.2"/><circle cx="79.4" cy="374.8" r="3.2"/><circle cx="80.0" cy="378.5" r="3.2"/><circle cx="80.6" cy="373.0" r="3.2"/><circle cx="81.2" cy="371.1" r="3.2"/><circle cx="81.8" cy="369.6" r="3.2"/><circle cx="82.4" cy="372.2" r="3.2"/><circle cx="83.0" cy="371.8" r="3.2"/><circle cx="83.6" cy="365.9" r="3.2"/><circle cx="84.2" cy="365.7" r="3.2"/><circle cx="84.8" cy="364.5" r="3.2"/><circle cx="85.4" cy="365.0" r="3.2"/><circle cx="86.0" cy="368.3" r="3.2"/><circle cx="86.6" cy="363.1" r="3.2"/><circle cx="87.2" cy="369.0" r="3.2"/><circle cx="87.8" cy="369.1" r="3.2"/><circle cx="88.4" cy="365.3" r="3.2"/><circle cx="89.0" cy="376.4" r="3.2"/><circle cx="89.7" cy="385.6" r="3.2"/><circle cx="90.3" cy="371.3" r="3.2"/><circle cx="90.9" cy="371.1" r="3.2"/><circle cx="91.5" cy="375.7" r="3.2"/><circle cx="92.1" cy="379.0" r="3.2"/><circle cx="92.7" cy="377.9" r="3.2"/><circle cx="93.3" cy="371.7" r="3.2"/><circle cx="93.9" cy="377.8" r="3.2"/><circle cx="94.5" cy="372.1" r="3.2"/><circle cx="95.1" cy="375.4" r="3.2"/><circle cx="95.7" cy="374.9" r="3.2"/><circle cx="96.3" cy="372.3" r="3.2"/><circle cx="96.9" cy="378.8" r="3.2"/><circle cx="97.5" cy="377.3" r="3.2"/><circle cx="98.1" cy="379.6" r="3.2"/><circle cx="98.7" cy="372.0" r="3.2"/><circle cx="99.3" cy="371.7" r="3.2"/><circle cx="99.9" cy="372.1" r="3.2"/><circle cx="100.5" cy="372.3" r="3.2"/><circle cx="101.1" cy="374.7" r="3.2"/><circle cx="101.7" cy="374.2" r="3.2"/><circle cx="102.3" cy="388.6" r="3.2"/><circle cx="102.9" cy="381.5" r="3.2"/><circle cx="103.5" cy="392.9" r="3.2"/><circle cx="104.1" cy="395.1" r="3.2"/><circle cx="104.8" cy="396.2" r="3.2"/><circle cx="105.4" cy="378.0" r="3.2"/><circle cx="106.0" cy="380.3" r="3.2"/><circle cx="106.6" cy="397.9" r="3.2"/><circle cx="107.2" cy="401.0" r="3.2"/><circle cx="107.8" cy="405.7" r="3.2"/><circle cx="108.4" cy="407.3" r="3.2"/><circle cx="109.0" cy="406.7" r="3.2"/><circle cx="109.6" cy="409.6" r="3.2"/><circle cx="110.2" cy="404.7" r="3.2"/><circle cx="110.8" cy="411.0" r="3.2"/><circle cx="111.4" cy="409.3" r="3.2"/><circle cx="112.0" cy="395.1" r="3.2"/><circle cx="112.6" cy="412.0" r="3.2"/><circle cx="113.2" cy="387.3" r="3.2"/><circle cx="113.8" cy="413.3" r="3.2"/><circle cx="114.4" cy="397.7" r="3.2"/><circle cx="115.0" cy="392.2" r="3.2"/><circle cx="115.6" cy="386.8" r="3.2"/><circle cx="116.2" cy="401.5" r="3.2"/><circle cx="116.8" cy="395.9" r="3.2"/><circle cx="117.4" cy="391.7" r="3.2"/><circle cx="118.0" cy="395.7" r="3.2"/><circle cx="118.6" cy="383.1" r="3.2"/><circle cx="119.2" cy="399.3" r="3.2"/><circle cx="119.9" cy="398.1" r="3.2"/><circle cx="120.5" cy="391.0" r="3.2"/><circle cx="121.1" cy="391.3" r="3.2"/><circle cx="121.7" cy="380.5" r="3.2"/><circle cx="122.3" cy="379.3" r="3.2"/><circle cx="122.9" cy="393.0" r="3.2"/><circle cx="123.5" cy="369.9" r="3.2"/><circle cx="124.1" cy="367.3" r="3.2"/><circle cx="124.7" cy="361.9" r="3.2"/><circle cx="125.3" cy="367.4" r="3.2"/><circle cx="125.9" cy="362.4" r="3.2"/><circle cx="126.5" cy="361.3" r="3.2"/><circle cx="127.1" cy="366.4" r="3.2"/><circle cx="127.7" cy="366.3" r="3.2"/><circle cx="128.3" cy="367.3" r="3.2"/><circle cx="128.9" cy="366.3" r="3.2"/><circle cx="129.5" cy="367.3" r="3.2"/><circle cx="130.1" cy="367.6" r="3.2"/><circle cx="130.7" cy="358.2" r="3.2"/><circle cx="131.3" cy="362.4" r="3.2"/><circle cx="131.9" cy="361.9" r="3.2"/><circle cx="132.5" cy="357.3" r="3.2"/><circle cx="133.1" cy="365.5" r="3.2"/><circle cx="133.7" cy="356.8" r="3.2"/><circle cx="134.3" cy="368.5" r="3.2"/><circle cx="135.0" cy="365.2" r="3.2"/><circle cx="135.6" cy="366.1" r="3.2"/><circle cx="136.2" cy="369.6" r="3.2"/><circle cx="136.8" cy="356.1" r="3.2"/><circle cx="137.4" cy="355.1" r="3.2"/><circle cx="138.0" cy="363.8" r="3.2"/><circle cx="138.6" cy="367.9" r="3.2"/><circle cx="139.2" cy="354.5" r="3.2"/><circle cx="139.8" cy="360.5" r="3.2"/><circle cx="140.4" cy="360.2" r="3.2"/><circle cx="141.0" cy="354.4" r="3.2"/><circle cx="141.6" cy="366.9" r="3.2"/><circle cx="142.2" cy="355.1" r="3.2"/><circle cx="142.8" cy="361.9" r="3.2"/><circle cx="143.4" cy="366.7" r="3.2"/><circle cx="144.0" cy="367.9" r="3.2"/><circle cx="144.6" cy="355.4" r="3.2"/><circle cx="145.2" cy="354.4" r="3.2"/><circle cx="145.8" cy="355.0" r="3.2"/><circle cx="146.4" cy="362.5" r="3.2"/><circle cx="147.0" cy="356.7" r="3.2"/><circle cx="147.6" cy="361.1" r="3.2"/><circle cx="148.2" cy="364.4" r="3.2"/><circle cx="148.8" cy="359.2" r="3.2"/><circle cx="149.4" cy="360.6" r="3.2"/><circle cx="150.1" cy="354.4" r="3.2"/><circle cx="150.7" cy="366.7" r="3.2"/><circle cx="151.3" cy="364.2" r="3.2"/><circle cx="151.9" cy="364.8" r="3.2"/><circle cx="152.5" cy="352.4" r="3.2"/><circle cx="153.1" cy="359.5" r="3.2"/><circle cx="153.7" cy="351.6" r="3.2"/><circle cx="154.3" cy="364.7" r="3.2"/><circle cx="154.9" cy="356.5" r="3.2"/><circle cx="155.5" cy="355.2" r="3.2"/><circle cx="156.1" cy="348.1" r="3.2"/><circle cx="156.7" cy="357.4" r="3.2"/><circle cx="157.3" cy="356.8" r="3.2"/><circle cx="157.9" cy="349.2" r="3.2"/><circle cx="158.5" cy="350.2" r="3.2"/><circle cx="159.1" cy="345.3" r="3.2"/><circle cx="159.7" cy="357.2" r="3.2"/><circle cx="160.3" cy="351.9" r="3.2"/><circle cx="160.9" cy="353.7" r="3.2"/><circle cx="161.5" cy="354.8" r="3.2"/><circle cx="162.1" cy="343.3" r="3.2"/><circle cx="162.7" cy="342.9" r="3.2"/><circle cx="163.3" cy="349.1" r="3.2"/><circle cx="163.9" cy="342.2" r="3.2"/><circle cx="164.5" cy="349.5" r="3.2"/><circle cx="165.2" cy="351.0" r="3.2"/><circle cx="165.8" cy="340.2" r="3.2"/><circle cx="166.4" cy="347.8" r="3.2"/><circle cx="167.0" cy="346.9" r="3.2"/><circle cx="167.6" cy="345.3" r="3.2"/><circle cx="168.2" cy="346.3" r="3.2"/><circle cx="168.8" cy="339.1" r="3.2"/><circle cx="169.4" cy="344.6" r="3.2"/><circle cx="170.0" cy="337.4" r="3.2"/><circle cx="170.6" cy="344.5" r="3.2"/><circle cx="171.2" cy="344.3" r="3.2"/><circle cx="171.8" cy="347.0" r="3.2"/><circle cx="172.4" cy="349.0" r="3.2"/><circle cx="173.0" cy="336.0" r="3.2"/><circle cx="173.6" cy="334.6" r="3.2"/><circle cx="174.2" cy="334.3" r="3.2"/><circle cx="174.8" cy="344.2" r="3.2"/><circle cx="175.4" cy="334.6" r="3.2"/><circle cx="176.0" cy="339.8" r="3.2"/><circle cx="176.6" cy="338.5" r="3.2"/><circle cx="177.2" cy="346.8" r="3.2"/><circle cx="177.8" cy="334.7" r="3.2"/><circle cx="178.4" cy="338.0" r="3.2"/><circle cx="179.0" cy="338.2" r="3.2"/><circle cx="179.6" cy="333.4" r="3.2"/><circle cx="180.3" cy="344.7" r="3.2"/><circle cx="180.9" cy="340.7" r="3.2"/><circle cx="181.5" cy="344.3" r="3.2"/><circle cx="182.1" cy="333.2" r="3.2"/><circle cx="182.7" cy="337.6" r="3.2"/><circle cx="183.3" cy="340.7" r="3.2"/><circle cx="183.9" cy="333.5" r="3.2"/><circle cx="184.5" cy="336.0" r="3.2"/><circle cx="185.1" cy="345.1" r="3.2"/><circle cx="185.7" cy="344.0" r="3.2"/><circle cx="186.3" cy="347.8" r="3.2"/><circle cx="186.9" cy="335.9" r="3.2"/><circle cx="187.5" cy="340.6" r="3.2"/><circle cx="188.1" cy="334.8" r="3.2"/><circle cx="188.7" cy="333.5" r="3.2"/><circle cx="189.3" cy="340.7" r="3.2"/><circle cx="189.9" cy="333.3" r="3.2"/><circle cx="190.5" cy="331.2" r="3.2"/><circle cx="191.1" cy="337.4" r="3.2"/><circle cx="191.7" cy="337.3" r="3.2"/><circle cx="192.3" cy="328.5" r="3.2"/><circle cx="192.9" cy="328.5" r="3.2"/><circle cx="193.5" cy="334.7" r="3.2"/><circle cx="194.1" cy="332.2" r="3.2"/><circle cx="194.7" cy="333.6" r="3.2"/><circle cx="195.4" cy="327.4" r="3.2"/><circle cx="196.0" cy="327.5" r="3.2"/><circle cx="196.6" cy="333.7" r="3.2"/><circle cx="197.2" cy="331.1" r="3.2"/><circle cx="197.8" cy="333.3" r="3.2"/><circle cx="198.4" cy="330.2" r="3.2"/><circle cx="199.0" cy="328.9" r="3.2"/><circle cx="199.6" cy="328.0" r="3.2"/><circle cx="200.2" cy="333.1" r="3.2"/><circle cx="200.8" cy="333.2" r="3.2"/><circle cx="201.4" cy="329.0" r="3.2"/><circle cx="202.0" cy="327.8" r="3.2"/><circle cx="202.6" cy="328.9" r="3.2"/><circle cx="203.2" cy="333.3" r="3.2"/><circle cx="203.8" cy="331.0" r="3.2"/><circle cx="204.4" cy="333.6" r="3.2"/><circle cx="205.0" cy="327.2" r="3.2"/><circle cx="205.6" cy="330.9" r="3.2"/><circle cx="206.2" cy="328.4" r="3.2"/><circle cx="206.8" cy="329.5" r="3.2"/><circle cx="207.4" cy="334.2" r="3.2"/><circle cx="208.0" cy="330.1" r="3.2"/><circle cx="208.6" cy="332.7" r="3.2"/><circle cx="209.2" cy="334.8" r="3.2"/><circle cx="209.8" cy="332.3" r="3.2"/><circle cx="210.5" cy="328.0" r="3.2"/><circle cx="211.1" cy="330.8" r="3.2"/><circle cx="211.7" cy="330.7" r="3.2"/><circle cx="212.3" cy="330.9" r="3.2"/><circle cx="212.9" cy="329.4" r="3.2"/><circle cx="213.5" cy="330.1" r="3.2"/><circle cx="214.1" cy="328.7" r="3.2"/><circle cx="214.7" cy="331.9" r="3.2"/><circle cx="215.3" cy="327.7" r="3.2"/><circle cx="215.9" cy="330.1" r="3.2"/><circle cx="216.5" cy="327.2" r="3.2"/><circle cx="217.1" cy="329.7" r="3.2"/><circle cx="217.7" cy="326.8" r="3.2"/><circle cx="218.3" cy="332.0" r="3.2"/><circle cx="218.9" cy="326.0" r="3.2"/><circle cx="219.5" cy="326.1" r="3.2"/><circle cx="220.1" cy="331.0" r="3.2"/><circle cx="220.7" cy="326.9" r="3.2"/><circle cx="221.3" cy="330.8" r="3.2"/><circle cx="221.9" cy="330.6" r="3.2"/><circle cx="222.5" cy="324.5" r="3.2"/><circle cx="223.1" cy="325.8" r="3.2"/><circle cx="223.7" cy="326.8" r="3.2"/><circle cx="224.3" cy="328.9" r="3.2"/><circle cx="224.9" cy="324.0" r="3.2"/><circle cx="225.6" cy="323.6" r="3.2"/><circle cx="226.2" cy="328.2" r="3.2"/><circle cx="226.8" cy="325.3" r="3.2"/><circle cx="227.4" cy="323.1" r="3.2"/><circle cx="228.0" cy="329.4" r="3.2"/><circle cx="228.6" cy="326.1" r="3.2"/><circle cx="229.2" cy="323.3" r="3.2"/><circle cx="229.8" cy="326.9" r="3.2"/><circle cx="230.4" cy="328.6" r="3.2"/><circle cx="231.0" cy="324.7" r="3.2"/><circle cx="231.6" cy="326.3" r="3.2"/><circle cx="232.2" cy="322.3" r="3.2"/><circle cx="232.8" cy="323.2" r="3.2"/><circle cx="233.4" cy="320.5" r="3.2"/><circle cx="234.0" cy="325.9" r="3.2"/><circle cx="234.6" cy="325.1" r="3.2"/><circle cx="235.2" cy="320.6" r="3.2"/><circle cx="235.8" cy="323.9" r="3.2"/><circle cx="236.4" cy="327.2" r="3.2"/><circle cx="237.0" cy="327.4" r="3.2"/><circle cx="237.6" cy="327.7" r="3.2"/><circle cx="238.2" cy="328.1" r="3.2"/><circle cx="238.8" cy="328.2" r="3.2"/><circle cx="239.4" cy="322.6" r="3.2"/><circle cx="240.0" cy="329.6" r="3.2"/><circle cx="240.7" cy="329.7" r="3.2"/><circle cx="241.3" cy="326.1" r="3.2"/><circle cx="241.9" cy="322.1" r="3.2"/><circle cx="242.5" cy="328.0" r="3.2"/><circle cx="243.1" cy="329.4" r="3.2"/><circle cx="243.7" cy="324.8" r="3.2"/><circle cx="244.3" cy="329.4" r="3.2"/><circle cx="244.9" cy="322.3" r="3.2"/><circle cx="245.5" cy="323.5" r="3.2"/><circle cx="246.1" cy="328.3" r="3.2"/><circle cx="246.7" cy="327.6" r="3.2"/><circle cx="247.3" cy="333.9" r="3.2"/><circle cx="247.9" cy="326.8" r="3.2"/><circle cx="248.5" cy="329.7" r="3.2"/><circle cx="249.1" cy="335.1" r="3.2"/><circle cx="249.7" cy="335.6" r="3.2"/><circle cx="250.3" cy="335.9" r="3.2"/><circle cx="250.9" cy="336.2" r="3.2"/><circle cx="251.5" cy="333.8" r="3.2"/><circle cx="252.1" cy="331.9" r="3.2"/><circle cx="252.7" cy="329.8" r="3.2"/><circle cx="253.3" cy="331.2" r="3.2"/><circle cx="253.9" cy="331.1" r="3.2"/><circle cx="254.5" cy="332.9" r="3.2"/><circle cx="255.1" cy="338.1" r="3.2"/><circle cx="255.8" cy="343.8" r="3.2"/><circle cx="256.4" cy="351.9" r="3.2"/><circle cx="257.0" cy="354.1" r="3.2"/><circle cx="257.6" cy="354.8" r="3.2"/><circle cx="258.2" cy="341.7" r="3.2"/><circle cx="258.8" cy="350.0" r="3.2"/><circle cx="259.4" cy="342.1" r="3.2"/><circle cx="260.0" cy="356.8" r="3.2"/><circle cx="260.6" cy="347.9" r="3.2"/><circle cx="261.2" cy="343.0" r="3.2"/><circle cx="261.8" cy="353.9" r="3.2"/><circle cx="262.4" cy="347.9" r="3.2"/><circle cx="263.0" cy="343.2" r="3.2"/><circle cx="263.6" cy="341.1" r="3.2"/><circle cx="264.2" cy="341.8" r="3.2"/><circle cx="264.8" cy="349.6" r="3.2"/><circle cx="265.4" cy="350.8" r="3.2"/><circle cx="266.0" cy="350.8" r="3.2"/><circle cx="266.6" cy="353.2" r="3.2"/><circle cx="267.2" cy="345.8" r="3.2"/><circle cx="267.8" cy="342.3" r="3.2"/><circle cx="268.4" cy="348.8" r="3.2"/><circle cx="269.0" cy="361.4" r="3.2"/><circle cx="269.6" cy="352.1" r="3.2"/><circle cx="270.2" cy="355.6" r="3.2"/><circle cx="270.9" cy="353.6" r="3.2"/><circle cx="271.5" cy="361.0" r="3.2"/><circle cx="272.1" cy="345.8" r="3.2"/><circle cx="272.7" cy="345.1" r="3.2"/><circle cx="273.3" cy="347.2" r="3.2"/><circle cx="273.9" cy="351.2" r="3.2"/><circle cx="274.5" cy="346.7" r="3.2"/><circle cx="275.1" cy="347.1" r="3.2"/><circle cx="275.7" cy="350.4" r="3.2"/><circle cx="276.3" cy="351.5" r="3.2"/><circle cx="276.9" cy="342.5" r="3.2"/><circle cx="277.5" cy="351.6" r="3.2"/><circle cx="278.1" cy="350.0" r="3.2"/><circle cx="278.7" cy="343.6" r="3.2"/><circle cx="279.3" cy="349.3" r="3.2"/><circle cx="279.9" cy="350.2" r="3.2"/><circle cx="280.5" cy="352.8" r="3.2"/><circle cx="281.1" cy="346.5" r="3.2"/><circle cx="281.7" cy="346.8" r="3.2"/><circle cx="282.3" cy="350.7" r="3.2"/><circle cx="282.9" cy="350.4" r="3.2"/><circle cx="283.5" cy="349.9" r="3.2"/><circle cx="284.1" cy="362.5" r="3.2"/><circle cx="284.7" cy="365.6" r="3.2"/><circle cx="285.3" cy="353.1" r="3.2"/><circle cx="286.0" cy="354.6" r="3.2"/><circle cx="286.6" cy="354.5" r="3.2"/><circle cx="287.2" cy="374.0" r="3.2"/><circle cx="287.8" cy="357.1" r="3.2"/><circle cx="288.4" cy="363.3" r="3.2"/><circle cx="289.0" cy="356.4" r="3.2"/><circle cx="289.6" cy="364.1" r="3.2"/><circle cx="290.2" cy="371.0" r="3.2"/><circle cx="290.8" cy="371.0" r="3.2"/><circle cx="291.4" cy="360.7" r="3.2"/><circle cx="292.0" cy="357.5" r="3.2"/><circle cx="292.6" cy="369.0" r="3.2"/><circle cx="293.2" cy="361.2" r="3.2"/><circle cx="293.8" cy="365.9" r="3.2"/><circle cx="294.4" cy="369.0" r="3.2"/><circle cx="295.0" cy="365.4" r="3.2"/><circle cx="295.6" cy="365.6" r="3.2"/><circle cx="296.2" cy="366.9" r="3.2"/><circle cx="296.8" cy="373.0" r="3.2"/><circle cx="297.4" cy="372.2" r="3.2"/><circle cx="298.0" cy="373.5" r="3.2"/><circle cx="298.6" cy="364.7" r="3.2"/><circle cx="299.2" cy="373.9" r="3.2"/><circle cx="299.8" cy="374.4" r="3.2"/><circle cx="300.4" cy="372.5" r="3.2"/><circle cx="301.1" cy="370.9" r="3.2"/><circle cx="301.7" cy="368.6" r="3.2"/><circle cx="302.3" cy="376.2" r="3.2"/><circle cx="302.9" cy="375.4" r="3.2"/><circle cx="303.5" cy="378.3" r="3.2"/><circle cx="304.1" cy="368.1" r="3.2"/><circle cx="304.7" cy="369.9" r="3.2"/><circle cx="305.3" cy="383.4" r="3.2"/><circle cx="305.9" cy="377.1" r="3.2"/><circle cx="306.5" cy="387.7" r="3.2"/><circle cx="307.1" cy="377.2" r="3.2"/><circle cx="307.7" cy="386.9" r="3.2"/><circle cx="308.3" cy="390.8" r="3.2"/><circle cx="308.9" cy="399.9" r="3.2"/><circle cx="309.5" cy="395.9" r="3.2"/><circle cx="310.1" cy="403.2" r="3.2"/><circle cx="310.7" cy="409.3" r="3.2"/><circle cx="311.3" cy="415.7" r="3.2"/><circle cx="311.9" cy="385.9" r="3.2"/><circle cx="312.5" cy="390.1" r="3.2"/><circle cx="313.1" cy="380.8" r="3.2"/><circle cx="313.7" cy="384.0" r="3.2"/><circle cx="314.3" cy="381.0" r="3.2"/><circle cx="314.9" cy="370.6" r="3.2"/><circle cx="315.5" cy="370.2" r="3.2"/><circle cx="316.2" cy="386.3" r="3.2"/><circle cx="316.8" cy="373.5" r="3.2"/><circle cx="317.4" cy="383.0" r="3.2"/><circle cx="318.0" cy="380.6" r="3.2"/><circle cx="318.6" cy="387.2" r="3.2"/><circle cx="319.2" cy="391.4" r="3.2"/><circle cx="319.8" cy="380.8" r="3.2"/><circle cx="320.4" cy="382.0" r="3.2"/><circle cx="321.0" cy="385.2" r="3.2"/><circle cx="321.6" cy="396.9" r="3.2"/><circle cx="322.2" cy="394.5" r="3.2"/><circle cx="322.8" cy="398.5" r="3.2"/><circle cx="323.4" cy="404.6" r="3.2"/><circle cx="324.0" cy="409.0" r="3.2"/><circle cx="324.6" cy="383.1" r="3.2"/><circle cx="325.2" cy="381.4" r="3.2"/><circle cx="325.8" cy="379.8" r="3.2"/><circle cx="326.4" cy="388.6" r="3.2"/><circle cx="327.0" cy="380.1" r="3.2"/><circle cx="327.6" cy="382.2" r="3.2"/><circle cx="328.2" cy="384.5" r="3.2"/><circle cx="328.8" cy="379.0" r="3.2"/><circle cx="329.4" cy="386.8" r="3.2"/><circle cx="330.0" cy="386.4" r="3.2"/></g>
<polyline fill="none" stroke="#ff0000" stroke-width="0.75" stroke-linejoin="bevel" points="51.6,352.2 52.2,351.2 52.8,343.1 53.4,362.1 54.0,344.4 54.6,341.5 55.2,344.0 55.8,349.0 56.4,336.0 57.0,346.0 57.6,347.7 58.2,351.2 58.8,354.1 59.5,358.4 60.1,356.2 60.7,362.1 61.3,361.7 61.9,363.9 62.5,370.4 63.1,366.6 63.7,362.2 64.3,364.3 64.9,362.6 65.5,364.9 66.1,366.5 66.7,363.6 67.3,354.8 67.9,364.1 68.5,364.5 69.1,361.2 69.7,363.5 70.3,373.5 70.9,376.7 71.5,371.8 72.1,376.4 72.7,380.2 73.3,375.6 73.9,379.0 74.6,380.1 75.2,378.5 75.8,386.4 76.4,380.8 77.0,377.5 77.6,384.2 78.2,379.9 78.8,381.7 79.4,377.8 80.0,380.8 80.6,368.2 81.2,372.4 81.8,370.1 82.4,370.2 83.0,367.2 83.6,368.9 84.2,368.5 84.8,362.8 85.4,367.6 86.0,369.6 86.6,360.8 87.2,368.5 87.8,370.9 88.4,364.5 89.0,373.1 89.7,383.7 90.3,373.3 90.9,374.2 91.5,371.5 92.1,379.3 92.7,379.2 93.3,376.5 93.9,371.2 94.5,370.6 95.1,374.2 95.7,370.6 96.3,372.8 96.9,374.3 97.5,367.4 98.1,375.9 98.7,375.4 99.3,376.8 99.9,377.5 100.5,379.1 101.1,376.8 101.7,377.6 102.3,385.8 102.9,371.7 103.5,386.9 104.1,383.3 104.8,387.5 105.4,385.5 106.0,386.6 106.6,392.0 107.2,394.5 107.8,399.9 108.4,396.4 109.0,402.1 109.6,400.0 110.2,397.7 110.8,394.0 111.4,405.6 112.0,395.6 112.6,402.6 113.2,392.4 113.8,404.9 114.4,398.6 115.0,397.1 115.6,391.2 116.2,402.4 116.8,396.2 117.4,390.9 118.0,391.6 118.6,388.5 119.2,393.3 119.9,396.0 120.5,391.1 121.1,387.8 121.7,383.8 122.3,376.2 122.9,386.3 123.5,364.0 124.1,368.4 124.7,367.9 125.3,368.9 125.9,361.2 126.5,361.2 127.1,371.9 127.7,367.2 128.3,362.2 128.9,364.0 129.5,360.2 130.1,356.2 130.7,355.6 131.3,359.6 131.9,361.3 132.5,359.5 133.1,371.2 133.7,361.3 134.3,367.0 135.0,363.8 135.6,366.4 136.2,354.3 136.8,345.9 137.4,360.3 138.0,360.2 138.6,362.3 139.2,359.9 139.8,355.0 140.4,364.4 141.0,356.8 141.6,361.4 142.2,347.7 142.8,348.4 143.4,365.4 144.0,365.3 144.6,348.9 145.2,357.5 145.8,358.1 146.4,355.4 147.0,357.3 147.6,360.7 148.2,349.5 148.8,346.2 149.4,348.4 150.1,359.0 150.7,352.4 151.3,363.0 151.9,363.5 152.5,356.5 153.1,360.1 153.7,354.6 154.3,363.5 154.9,355.2 155.5,356.3 156.1,346.2 156.7,354.8 157.3,363.0 157.9,344.9 158.5,347.8 159.1,346.0 159.7,352.3 160.3,353.4 160.9,353.8 161.5,345.7 162.1,342.9 162.7,342.3 163.3,350.1 163.9,335.2 164.5,346.3 165.2,346.0 165.8,345.7 166.4,347.9 167.0,345.7 167.6,346.1 168.2,348.2 168.8,343.4 169.4,326.1 170.0,324.5 170.6,345.5 171.2,338.7 171.8,342.9 172.4,343.0 173.0,339.5 173.6,335.1 174.2,334.6 174.8,338.6 175.4,342.9 176.0,342.5 176.6,340.0 177.2,338.4 177.8,336.1 178.4,339.3 179.0,349.6 179.6,342.0 180.3,333.2 180.9,338.0 181.5,339.5 182.1,336.4 182.7,335.2 183.3,332.5 183.9,332.5 184.5,323.6 185.1,342.6 185.7,344.8 186.3,344.9 186.9,339.0 187.5,334.2 188.1,336.7 188.7,336.0 189.3,339.2 189.9,328.7 190.5,333.4 191.1,334.4 191.7,342.3 192.3,340.7 192.9,326.5 193.5,333.2 194.1,330.3 194.7,336.2 195.4,329.6 196.0,330.4 196.6,333.8 197.2,319.0 197.8,335.8 198.4,338.6 199.0,325.9 199.6,329.8 200.2,333.7 200.8,332.6 201.4,327.0 202.0,335.7 202.6,331.6 203.2,330.9 203.8,331.7 204.4,331.0 205.0,330.7 205.6,327.7 206.2,325.1 206.8,331.3 207.4,333.5 208.0,327.1 208.6,327.5 209.2,329.5 209.8,335.7 210.5,332.3 211.1,336.0 211.7,331.7 212.3,335.5 212.9,332.7 213.5,336.0 214.1,328.9 214.7,334.9 215.3,330.1 215.9,331.9 216.5,327.1 217.1,334.9 217.7,329.4 218.3,326.6 218.9,329.8 219.5,329.0 220.1,319.7 220.7,322.1 221.3,334.0 221.9,327.6 222.5,324.3 223.1,325.4 223.7,335.5 224.3,326.8 224.9,325.6 225.6,320.7 226.2,327.1 226.8,333.8 227.4,324.6 228.0,326.4 228.6,314.8 229.2,317.0 229.8,326.3 230.4,318.7 231.0,323.4 231.6,323.1 232.2,324.2 232.8,321.4 233.4,324.9 234.0,324.7 234.6,327.0 235.2,320.3 235.8,319.8 236.4,322.7 237.0,324.9 237.6,325.4 238.2,321.6 238.8,328.8 239.4,323.3 240.0,332.1 240.7,324.9 241.3,330.0 241.9,322.2 242.5,334.9 243.1,325.6 243.7,335.2 244.3,321.8 244.9,328.3 245.5,324.3 246.1,331.9 246.7,331.2 247.3,327.9 247.9,328.6 248.5,330.0 249.1,331.5 249.7,335.4 250.3,333.5 250.9,332.2 251.5,338.6 252.1,340.4 252.7,333.0 253.3,323.2 253.9,332.2 254.5,335.1 255.1,333.3 255.8,344.4 256.4,347.7 257.0,338.6 257.6,352.5 258.2,354.1 258.8,356.2 259.4,353.6 260.0,357.6 260.6,350.4 261.2,343.7 261.8,350.8 262.4,349.0 263.0,348.8 263.6,348.1 264.2,343.2 264.8,348.0 265.4,350.3 266.0,349.3 266.6,343.8 267.2,346.1 267.8,343.3 268.4,347.7 269.0,358.4 269.6,350.5 270.2,354.4 270.9,354.0 271.5,360.2 272.1,353.7 272.7,351.3 273.3,348.4 273.9,350.8 274.5,346.5 275.1,343.7 275.7,338.7 276.3,343.1 276.9,340.9 277.5,349.1 278.1,350.0 278.7,347.7 279.3,348.6 279.9,348.5 280.5,350.1 281.1,347.5 281.7,350.1 282.3,346.5 282.9,348.3 283.5,361.1 284.1,358.8 284.7,360.8 285.3,358.4 286.0,359.7 286.6,360.9 287.2,348.7 287.8,362.2 288.4,375.1 289.0,363.9 289.6,363.6 290.2,363.5 290.8,377.1 291.4,372.9 292.0,369.4 292.6,362.0 293.2,358.7 293.8,363.9 294.4,368.7 295.0,362.9 295.6,363.2 296.2,363.4 296.8,377.7 297.4,365.6 298.0,370.1 298.6,364.7 299.2,375.0 299.8,369.3 300.4,375.6 301.1,370.8 301.7,369.1 302.3,376.4 302.9,373.1 303.5,374.5 304.1,369.6 304.7,371.2 305.3,377.2 305.9,380.1 306.5,389.0 307.1,377.6 307.7,382.8 308.3,375.1 308.9,389.5 309.5,394.9 310.1,390.2 310.7,399.9 311.3,400.5 311.9,386.8 312.5,384.5 313.1,387.2 313.7,365.6 314.3,379.9 314.9,366.2 315.5,363.0 316.2,384.0 316.8,373.5 317.4,384.0 318.0,377.5 318.6,385.1 319.2,391.9 319.8,381.6 320.4,383.5 321.0,389.1 321.6,391.8 322.2,391.8 322.8,396.1 323.4,393.9 324.0,395.0 324.6,387.2 325.2,382.7 325.8,386.7 326.4,378.5 327.0,378.7 327.6,381.2 328.2,372.0 328.8,360.2 329.4,366.8 330.0,386.8"/>
<polyline fill="none" stroke="#000000" stroke-width="0.80" stroke-linejoin="bevel" points="51.6,348.4 52.2,347.3 52.8,338.7 53.4,360.9 54.0,351.7 54.6,343.8 55.2,338.8 55.8,347.8 56.4,336.0 57.0,345.6 57.6,347.9 58.2,348.0 58.8,353.8 59.5,357.3 60.1,352.8 60.7,360.2 61.3,361.2 61.9,363.3 62.5,365.0 63.1,366.9 63.7,362.9 64.3,359.2 64.9,362.4 65.5,353.6 66.1,364.0 66.7,367.1 67.3,351.3 67.9,364.2 68.5,362.6 69.1,360.3 69.7,365.2 70.3,371.4 70.9,376.5 71.5,372.7 72.1,372.4 72.7,376.4 73.3,374.8 73.9,384.6 74.6,376.0 75.2,382.9 75.8,380.6 76.4,374.1 77.0,378.5 77.6,382.4 78.2,378.5 78.8,379.9 79.4,375.6 80.0,384.3 80.6,360.2 81.2,373.9 81.8,369.2 82.4,366.6 83.0,366.8 83.6,368.7 84.2,367.8 84.8,372.7 85.4,365.9 86.0,366.8 86.6,365.2 87.2,366.5 87.8,370.3 88.4,363.0 89.0,375.3 89.7,378.7 90.3,372.0 90.9,360.9 91.5,375.6 92.1,381.5 92.7,377.7 93.3,374.2 93.9,372.0 94.5,376.3 95.1,376.1 95.7,360.8 96.3,374.9 96.9,371.9 97.5,370.6 98.1,376.6 98.7,374.1 99.3,369.7 99.9,371.1 100.5,380.1 101.1,378.8 101.7,377.1 102.3,386.9 102.9,369.0 103.5,388.9 104.1,385.1 104.8,382.5 105.4,382.0 106.0,383.6 106.6,381.6 107.2,393.9 107.8,399.8 108.4,396.3 109.0,401.4 109.6,399.9 110.2,397.5 110.8,397.8 111.4,400.6 112.0,395.8 112.6,401.7 113.2,392.8 113.8,403.7 114.4,393.4 115.0,393.7 115.6,390.3 116.2,396.3 116.8,391.1 117.4,385.7 118.0,389.2 118.6,388.3 119.2,391.0 119.9,390.8 120.5,389.1 121.1,385.0 121.7,384.0 122.3,374.3 122.9,383.6 123.5,363.6 124.1,361.8 124.7,364.5 125.3,366.3 125.9,360.2 126.5,359.7 127.1,367.6 127.7,363.1 128.3,360.3 128.9,362.4 129.5,359.5 130.1,352.6 130.7,352.7 131.3,358.4 131.9,360.3 132.5,366.3 133.1,370.6 133.7,354.8 134.3,364.4 135.0,362.2 135.6,367.9 136.2,351.4 136.8,340.3 137.4,356.6 138.0,358.6 138.6,362.8 139.2,351.8 139.8,356.8 140.4,365.8 141.0,349.6 141.6,364.4 142.2,348.8 142.8,345.2 143.4,365.5 144.0,364.3 144.6,350.4 145.2,360.8 145.8,356.7 146.4,363.0 147.0,359.5 147.6,358.3 148.2,346.6 148.8,342.4 149.4,357.5 150.1,357.4 150.7,347.3 151.3,357.9 151.9,351.2 152.5,349.8 153.1,362.0 153.7,351.1 154.3,364.6 154.9,355.2 155.5,351.3 156.1,346.0 156.7,355.0 157.3,348.8 157.9,346.5 158.5,353.1 159.1,347.2 159.7,352.5 160.3,349.0 160.9,352.3 161.5,343.7 162.1,343.5 162.7,342.4 163.3,344.1 163.9,337.8 164.5,341.8 165.2,342.7 165.8,342.8 166.4,345.6 167.0,344.8 167.6,344.0 168.2,343.5 168.8,343.5 169.4,320.9 170.0,322.3 170.6,343.8 171.2,338.4 171.8,342.5 172.4,354.8 173.0,338.5 173.6,335.1 174.2,335.4 174.8,340.0 175.4,339.2 176.0,335.4 176.6,339.9 177.2,335.7 177.8,336.1 178.4,336.1 179.0,345.8 179.6,336.1 180.3,329.3 180.9,340.5 181.5,341.6 182.1,335.5 182.7,335.9 183.3,334.5 183.9,327.6 184.5,322.5 185.1,340.2 185.7,342.7 186.3,340.9 186.9,339.0 187.5,334.0 188.1,334.4 188.7,334.9 189.3,334.1 189.9,329.9 190.5,334.0 191.1,332.6 191.7,335.1 192.3,332.1 192.9,326.9 193.5,330.8 194.1,327.8 194.7,334.2 195.4,322.2 196.0,331.0 196.6,331.7 197.2,316.0 197.8,335.6 198.4,338.6 199.0,327.2 199.6,331.0 200.2,331.6 200.8,333.4 201.4,327.3 202.0,332.1 202.6,330.3 203.2,316.8 203.8,330.6 204.4,328.6 205.0,323.9 205.6,327.8 206.2,327.6 206.8,328.5 207.4,333.9 208.0,327.9 208.6,324.5 209.2,327.3 209.8,327.6 210.5,330.4 211.1,334.8 211.7,326.7 212.3,331.8 212.9,331.0 213.5,333.6 214.1,322.6 214.7,334.1 215.3,331.3 215.9,330.1 216.5,328.6 217.1,327.9 217.7,325.9 218.3,325.7 218.9,329.5 219.5,323.8 220.1,324.3 220.7,320.4 221.3,329.6 221.9,327.1 222.5,323.6 223.1,328.9 223.7,331.2 224.3,325.3 224.9,325.7 225.6,322.2 226.2,320.6 226.8,326.3 227.4,312.0 228.0,327.1 228.6,326.0 229.2,319.4 229.8,326.1 230.4,323.0 231.0,326.4 231.6,322.7 232.2,321.6 232.8,320.6 233.4,325.4 234.0,328.4 234.6,324.3 235.2,320.0 235.8,324.3 236.4,322.0 237.0,324.9 237.6,323.0 238.2,321.8 238.8,324.4 239.4,323.9 240.0,329.0 240.7,324.6 241.3,331.6 241.9,321.9 242.5,334.9 243.1,327.4 243.7,332.2 244.3,319.2 244.9,323.2 245.5,324.2 246.1,328.0 246.7,328.1 247.3,330.6 247.9,327.4 248.5,325.1 249.1,329.9 249.7,335.8 250.3,334.7 250.9,328.2 251.5,334.7 252.1,341.9 252.7,332.5 253.3,325.8 253.9,332.0 254.5,332.2 255.1,340.8 255.8,342.2 256.4,348.8 257.0,334.4 257.6,350.5 258.2,352.8 258.8,339.4 259.4,353.6 260.0,356.9 260.6,350.2 261.2,343.6 261.8,348.7 262.4,351.3 263.0,343.0 263.6,347.2 264.2,338.3 264.8,345.9 265.4,343.5 266.0,339.6 266.6,341.9 267.2,342.6 267.8,343.8 268.4,347.3 269.0,356.5 269.6,351.2 270.2,349.8 270.9,346.0 271.5,360.0 272.1,348.8 272.7,349.1 273.3,349.4 273.9,348.6 274.5,346.4 275.1,337.5 275.7,336.0 276.3,343.7 276.9,341.2 277.5,343.8 278.1,348.2 278.7,350.5 279.3,340.7 279.9,350.9 280.5,346.1 281.1,350.4 281.7,348.3 282.3,346.7 282.9,349.4 283.5,356.3 284.1,357.8 284.7,360.9 285.3,353.9 286.0,361.5 286.6,357.3 287.2,358.0 287.8,367.9 288.4,375.1 289.0,363.0 289.6,360.5 290.2,364.3 290.8,374.6 291.4,376.5 292.0,368.2 292.6,362.0 293.2,360.4 293.8,364.2 294.4,368.2 295.0,362.8 295.6,360.1 296.2,364.6 296.8,377.1 297.4,364.4 298.0,354.6 298.6,363.8 299.2,369.8 299.8,368.2 300.4,372.8 301.1,366.2 301.7,363.9 302.3,373.1 302.9,373.4 303.5,377.1 304.1,368.0 304.7,371.6 305.3,378.3 305.9,375.8 306.5,385.0 307.1,375.3 307.7,381.8 308.3,378.6 308.9,393.3 309.5,386.7 310.1,388.3 310.7,394.6 311.3,398.3 311.9,384.3 312.5,385.6 313.1,384.5 313.7,375.0 314.3,378.1 314.9,361.5 315.5,367.1 316.2,383.7 316.8,374.4 317.4,382.4 318.0,375.2 318.6,380.8 319.2,388.4 319.8,382.7 320.4,383.9 321.0,383.3 321.6,390.0 322.2,387.9 322.8,395.2 323.4,387.1 324.0,399.2 324.6,385.0 325.2,382.2 325.8,385.4 326.4,377.5 327.0,373.3 327.6,379.4 328.2,371.2 328.8,358.7 329.4,365.8 330.0,386.3"/>
<g shape-rendering="auto"><path d="M47.0 288.4H330.1" stroke="#333" stroke-width="1.0"/><path d="M330.1 288.4V456.3" stroke="#808080" stroke-width="1.3"/><path d="M51.6 288.4V460.6" stroke="#1a1a1a" stroke-width="1.1"/><path d="M47.0 456.3H330.1" stroke="#1a1a1a" stroke-width="1.1"/><path d="M47.0 422.7H51.6M47.0 389.1H51.6M47.0 355.6H51.6M47.0 322.0H51.6M112.0 456.3V460.6M172.4 456.3V460.6M232.8 456.3V460.6M293.2 456.3V460.6" stroke="#1a1a1a" stroke-width="1" fill="none"/></g>
<text transform="translate(39.8 461.2) scale(0.970 1)" text-anchor="end" font-size="14.6">10</text><text transform="translate(39.8 427.6) scale(0.970 1)" text-anchor="end" font-size="14.6">15</text><text transform="translate(39.8 394.0) scale(0.970 1)" text-anchor="end" font-size="14.6">20</text><text transform="translate(39.8 360.5) scale(0.970 1)" text-anchor="end" font-size="14.6">25</text><text transform="translate(39.8 326.9) scale(0.970 1)" text-anchor="end" font-size="14.6">30</text><text transform="translate(39.8 293.3) scale(0.970 1)" text-anchor="end" font-size="14.6">35</text><text transform="translate(51.9 477.7) scale(0.950 1)" text-anchor="middle" font-size="14.6">0</text><text transform="translate(112.3 477.7) scale(0.950 1)" text-anchor="middle" font-size="14.6">100</text><text transform="translate(172.7 477.7) scale(0.950 1)" text-anchor="middle" font-size="14.6">200</text><text transform="translate(233.1 477.7) scale(0.950 1)" text-anchor="middle" font-size="14.6">300</text><text transform="translate(293.5 477.7) scale(0.950 1)" text-anchor="middle" font-size="14.6">400</text><text transform="translate(181.4 284.4)" text-anchor="middle" font-size="13.8">20 cm</text><text transform="translate(192.4 501.7) scale(0.985 1)" text-anchor="middle" font-size="15.3">Days</text><text transform="translate(11.0 367.7) rotate(-90) scale(0.975 1)" text-anchor="middle" font-size="16.0">Soil Temperature (C)</text>
<g fill="#fff400" stroke="#000" stroke-width="1.45"><circle cx="425.5" cy="344.6" r="3.2"/><circle cx="426.1" cy="344.6" r="3.2"/><circle cx="426.6" cy="344.6" r="3.2"/><circle cx="427.2" cy="345.3" r="3.2"/><circle cx="427.7" cy="344.5" r="3.2"/><circle cx="428.3" cy="343.6" r="3.2"/><circle cx="428.8" cy="344.5" r="3.2"/><circle cx="429.4" cy="345.1" r="3.2"/><circle cx="429.9" cy="347.1" r="3.2"/><circle cx="430.5" cy="345.3" r="3.2"/><circle cx="431.0" cy="345.5" r="3.2"/><circle cx="431.6" cy="346.8" r="3.2"/><circle cx="432.1" cy="346.7" r="3.2"/><circle cx="432.7" cy="347.1" r="3.2"/><circle cx="433.2" cy="348.0" r="3.2"/><circle cx="433.8" cy="349.1" r="3.2"/><circle cx="434.3" cy="349.6" r="3.2"/><circle cx="434.9" cy="349.5" r="3.2"/><circle cx="435.5" cy="349.2" r="3.2"/><circle cx="436.0" cy="349.2" r="3.2"/><circle cx="436.6" cy="350.0" r="3.2"/><circle cx="437.1" cy="349.9" r="3.2"/><circle cx="437.7" cy="351.4" r="3.2"/><circle cx="438.2" cy="354.2" r="3.2"/><circle cx="438.8" cy="355.6" r="3.2"/><circle cx="439.3" cy="354.1" r="3.2"/><circle cx="439.9" cy="356.4" r="3.2"/><circle cx="440.4" cy="356.8" r="3.2"/><circle cx="441.0" cy="356.3" r="3.2"/><circle cx="441.5" cy="354.8" r="3.2"/><circle cx="442.1" cy="358.0" r="3.2"/><circle cx="442.6" cy="358.4" r="3.2"/><circle cx="443.2" cy="358.8" r="3.2"/><circle cx="443.7" cy="359.2" r="3.2"/><circle cx="444.3" cy="358.6" r="3.2"/><circle cx="444.9" cy="357.4" r="3.2"/><circle cx="445.4" cy="357.3" r="3.2"/><circle cx="446.0" cy="356.4" r="3.2"/><circle cx="446.5" cy="357.2" r="3.2"/><circle cx="447.1" cy="359.3" r="3.2"/><circle cx="447.6" cy="361.9" r="3.2"/><circle cx="448.2" cy="361.9" r="3.2"/><circle cx="448.7" cy="362.0" r="3.2"/><circle cx="449.3" cy="360.7" r="3.2"/><circle cx="449.8" cy="360.4" r="3.2"/><circle cx="450.4" cy="360.1" r="3.2"/><circle cx="450.9" cy="360.1" r="3.2"/><circle cx="451.5" cy="359.3" r="3.2"/><circle cx="452.0" cy="358.6" r="3.2"/><circle cx="452.6" cy="358.6" r="3.2"/><circle cx="453.1" cy="357.5" r="3.2"/><circle cx="453.7" cy="359.0" r="3.2"/><circle cx="454.3" cy="357.2" r="3.2"/><circle cx="454.8" cy="356.3" r="3.2"/><circle cx="455.4" cy="354.8" r="3.2"/><circle cx="455.9" cy="354.4" r="3.2"/><circle cx="456.5" cy="356.4" r="3.2"/><circle cx="457.0" cy="356.9" r="3.2"/><circle cx="457.6" cy="356.8" r="3.2"/><circle cx="458.1" cy="357.3" r="3.2"/><circle cx="458.7" cy="358.0" r="3.2"/><circle cx="459.2" cy="357.7" r="3.2"/><circle cx="459.8" cy="359.6" r="3.2"/><circle cx="460.3" cy="359.3" r="3.2"/><circle cx="460.9" cy="362.5" r="3.2"/><circle cx="461.4" cy="360.8" r="3.2"/><circle cx="462.0" cy="359.4" r="3.2"/><circle cx="462.6" cy="359.1" r="3.2"/><circle cx="463.1" cy="358.0" r="3.2"/><circle cx="463.7" cy="358.3" r="3.2"/><circle cx="464.2" cy="357.9" r="3.2"/><circle cx="464.8" cy="359.5" r="3.2"/><circle cx="465.3" cy="360.8" r="3.2"/><circle cx="465.9" cy="360.8" r="3.2"/><circle cx="466.4" cy="360.0" r="3.2"/><circle cx="467.0" cy="358.7" r="3.2"/><circle cx="467.5" cy="360.1" r="3.2"/><circle cx="468.1" cy="360.6" r="3.2"/><circle cx="468.6" cy="361.2" r="3.2"/><circle cx="469.2" cy="359.9" r="3.2"/><circle cx="469.7" cy="360.7" r="3.2"/><circle cx="470.3" cy="359.5" r="3.2"/><circle cx="470.8" cy="360.4" r="3.2"/><circle cx="471.4" cy="361.4" r="3.2"/><circle cx="472.0" cy="362.0" r="3.2"/><circle cx="472.5" cy="363.7" r="3.2"/><circle cx="473.1" cy="364.6" r="3.2"/><circle cx="473.6" cy="365.5" r="3.2"/><circle cx="474.2" cy="366.4" r="3.2"/><circle cx="474.7" cy="362.9" r="3.2"/><circle cx="475.3" cy="362.9" r="3.2"/><circle cx="475.8" cy="362.4" r="3.2"/><circle cx="476.4" cy="364.0" r="3.2"/><circle cx="476.9" cy="366.1" r="3.2"/><circle cx="477.5" cy="370.6" r="3.2"/><circle cx="478.0" cy="372.9" r="3.2"/><circle cx="478.6" cy="368.7" r="3.2"/><circle cx="479.1" cy="370.7" r="3.2"/><circle cx="479.7" cy="372.0" r="3.2"/><circle cx="480.2" cy="370.2" r="3.2"/><circle cx="480.8" cy="371.6" r="3.2"/><circle cx="481.4" cy="372.5" r="3.2"/><circle cx="481.9" cy="368.7" r="3.2"/><circle cx="482.5" cy="369.9" r="3.2"/><circle cx="483.0" cy="371.4" r="3.2"/><circle cx="483.6" cy="372.3" r="3.2"/><circle cx="484.1" cy="373.4" r="3.2"/><circle cx="484.7" cy="371.7" r="3.2"/><circle cx="485.2" cy="370.0" r="3.2"/><circle cx="485.8" cy="371.3" r="3.2"/><circle cx="486.3" cy="371.1" r="3.2"/><circle cx="486.9" cy="373.8" r="3.2"/><circle cx="487.4" cy="372.3" r="3.2"/><circle cx="488.0" cy="369.1" r="3.2"/><circle cx="488.5" cy="370.6" r="3.2"/><circle cx="489.1" cy="369.0" r="3.2"/><circle cx="489.6" cy="369.0" r="3.2"/><circle cx="490.2" cy="368.1" r="3.2"/><circle cx="490.8" cy="365.8" r="3.2"/><circle cx="491.3" cy="364.7" r="3.2"/><circle cx="491.9" cy="359.9" r="3.2"/><circle cx="492.4" cy="356.1" r="3.2"/><circle cx="493.0" cy="355.2" r="3.2"/><circle cx="493.5" cy="356.8" r="3.2"/><circle cx="494.1" cy="359.1" r="3.2"/><circle cx="494.6" cy="358.6" r="3.2"/><circle cx="495.2" cy="357.2" r="3.2"/><circle cx="495.7" cy="356.4" r="3.2"/><circle cx="496.3" cy="356.0" r="3.2"/><circle cx="496.8" cy="355.5" r="3.2"/><circle cx="497.4" cy="355.8" r="3.2"/><circle cx="497.9" cy="354.4" r="3.2"/><circle cx="498.5" cy="356.7" r="3.2"/><circle cx="499.0" cy="355.2" r="3.2"/><circle cx="499.6" cy="354.1" r="3.2"/><circle cx="500.2" cy="355.1" r="3.2"/><circle cx="500.7" cy="351.2" r="3.2"/><circle cx="501.3" cy="351.0" r="3.2"/><circle cx="501.8" cy="351.3" r="3.2"/><circle cx="502.4" cy="354.3" r="3.2"/><circle cx="502.9" cy="353.6" r="3.2"/><circle cx="503.5" cy="353.2" r="3.2"/><circle cx="504.0" cy="351.4" r="3.2"/><circle cx="504.6" cy="352.9" r="3.2"/><circle cx="505.1" cy="351.2" r="3.2"/><circle cx="505.7" cy="353.8" r="3.2"/><circle cx="506.2" cy="353.3" r="3.2"/><circle cx="506.8" cy="355.5" r="3.2"/><circle cx="507.3" cy="354.3" r="3.2"/><circle cx="507.9" cy="352.5" r="3.2"/><circle cx="508.4" cy="354.5" r="3.2"/><circle cx="509.0" cy="352.6" r="3.2"/><circle cx="509.6" cy="351.7" r="3.2"/><circle cx="510.1" cy="353.9" r="3.2"/><circle cx="510.7" cy="354.3" r="3.2"/><circle cx="511.2" cy="353.9" r="3.2"/><circle cx="511.8" cy="352.3" r="3.2"/><circle cx="512.3" cy="350.1" r="3.2"/><circle cx="512.9" cy="351.2" r="3.2"/><circle cx="513.4" cy="352.2" r="3.2"/><circle cx="514.0" cy="351.9" r="3.2"/><circle cx="514.5" cy="352.8" r="3.2"/><circle cx="515.1" cy="352.2" r="3.2"/><circle cx="515.6" cy="351.4" r="3.2"/><circle cx="516.2" cy="351.0" r="3.2"/><circle cx="516.7" cy="348.6" r="3.2"/><circle cx="517.3" cy="349.1" r="3.2"/><circle cx="517.9" cy="349.9" r="3.2"/><circle cx="518.4" cy="348.1" r="3.2"/><circle cx="519.0" cy="348.7" r="3.2"/><circle cx="519.5" cy="348.4" r="3.2"/><circle cx="520.1" cy="348.5" r="3.2"/><circle cx="520.6" cy="348.2" r="3.2"/><circle cx="521.2" cy="347.5" r="3.2"/><circle cx="521.7" cy="347.0" r="3.2"/><circle cx="522.3" cy="348.3" r="3.2"/><circle cx="522.8" cy="346.0" r="3.2"/><circle cx="523.4" cy="346.6" r="3.2"/><circle cx="523.9" cy="346.9" r="3.2"/><circle cx="524.5" cy="345.5" r="3.2"/><circle cx="525.0" cy="346.1" r="3.2"/><circle cx="525.6" cy="345.2" r="3.2"/><circle cx="526.1" cy="343.8" r="3.2"/><circle cx="526.7" cy="343.1" r="3.2"/><circle cx="527.3" cy="344.3" r="3.2"/><circle cx="527.8" cy="343.1" r="3.2"/><circle cx="528.4" cy="343.8" r="3.2"/><circle cx="528.9" cy="344.8" r="3.2"/><circle cx="529.5" cy="345.4" r="3.2"/><circle cx="530.0" cy="344.2" r="3.2"/><circle cx="530.6" cy="344.6" r="3.2"/><circle cx="531.1" cy="342.3" r="3.2"/><circle cx="531.7" cy="341.5" r="3.2"/><circle cx="532.2" cy="341.2" r="3.2"/><circle cx="532.8" cy="340.3" r="3.2"/><circle cx="533.3" cy="340.0" r="3.2"/><circle cx="533.9" cy="341.5" r="3.2"/><circle cx="534.4" cy="339.5" r="3.2"/><circle cx="535.0" cy="341.4" r="3.2"/><circle cx="535.5" cy="341.1" r="3.2"/><circle cx="536.1" cy="343.3" r="3.2"/><circle cx="536.7" cy="342.5" r="3.2"/><circle cx="537.2" cy="342.2" r="3.2"/><circle cx="537.8" cy="342.9" r="3.2"/><circle cx="538.3" cy="341.1" r="3.2"/><circle cx="538.9" cy="340.4" r="3.2"/><circle cx="539.4" cy="340.0" r="3.2"/><circle cx="540.0" cy="341.0" r="3.2"/><circle cx="540.5" cy="338.6" r="3.2"/><circle cx="541.1" cy="339.0" r="3.2"/><circle cx="541.6" cy="338.1" r="3.2"/><circle cx="542.2" cy="340.2" r="3.2"/><circle cx="542.7" cy="337.8" r="3.2"/><circle cx="543.3" cy="338.5" r="3.2"/><circle cx="543.8" cy="337.2" r="3.2"/><circle cx="544.4" cy="338.1" r="3.2"/><circle cx="544.9" cy="338.1" r="3.2"/><circle cx="545.5" cy="337.2" r="3.2"/><circle cx="546.1" cy="337.1" r="3.2"/><circle cx="546.6" cy="334.6" r="3.2"/><circle cx="547.2" cy="335.2" r="3.2"/><circle cx="547.7" cy="335.8" r="3.2"/><circle cx="548.3" cy="334.2" r="3.2"/><circle cx="548.8" cy="334.3" r="3.2"/><circle cx="549.4" cy="335.9" r="3.2"/><circle cx="549.9" cy="335.5" r="3.2"/><circle cx="550.5" cy="333.6" r="3.2"/><circle cx="551.0" cy="333.3" r="3.2"/><circle cx="551.6" cy="331.3" r="3.2"/><circle cx="552.1" cy="333.2" r="3.2"/><circle cx="552.7" cy="332.0" r="3.2"/><circle cx="553.2" cy="333.6" r="3.2"/><circle cx="553.8" cy="334.2" r="3.2"/><circle cx="554.3" cy="335.2" r="3.2"/><circle cx="554.9" cy="336.3" r="3.2"/><circle cx="555.5" cy="332.1" r="3.2"/><circle cx="556.0" cy="333.2" r="3.2"/><circle cx="556.6" cy="333.0" r="3.2"/><circle cx="557.1" cy="333.6" r="3.2"/><circle cx="557.7" cy="333.1" r="3.2"/><circle cx="558.2" cy="334.5" r="3.2"/><circle cx="558.8" cy="337.1" r="3.2"/><circle cx="559.3" cy="336.2" r="3.2"/><circle cx="559.9" cy="337.6" r="3.2"/><circle cx="560.4" cy="335.5" r="3.2"/><circle cx="561.0" cy="337.2" r="3.2"/><circle cx="561.5" cy="337.5" r="3.2"/><circle cx="562.1" cy="336.5" r="3.2"/><circle cx="562.6" cy="338.2" r="3.2"/><circle cx="563.2" cy="338.2" r="3.2"/><circle cx="563.8" cy="337.5" r="3.2"/><circle cx="564.3" cy="339.2" r="3.2"/><circle cx="564.9" cy="338.6" r="3.2"/><circle cx="565.4" cy="339.8" r="3.2"/><circle cx="566.0" cy="339.0" r="3.2"/><circle cx="566.5" cy="336.3" r="3.2"/><circle cx="567.1" cy="335.0" r="3.2"/><circle cx="567.6" cy="336.2" r="3.2"/><circle cx="568.2" cy="336.9" r="3.2"/><circle cx="568.7" cy="337.8" r="3.2"/><circle cx="569.3" cy="336.4" r="3.2"/><circle cx="569.8" cy="335.5" r="3.2"/><circle cx="570.4" cy="337.5" r="3.2"/><circle cx="570.9" cy="338.0" r="3.2"/><circle cx="571.5" cy="338.6" r="3.2"/><circle cx="572.0" cy="337.3" r="3.2"/><circle cx="572.6" cy="336.2" r="3.2"/><circle cx="573.2" cy="335.6" r="3.2"/><circle cx="573.7" cy="334.6" r="3.2"/><circle cx="574.3" cy="333.9" r="3.2"/><circle cx="574.8" cy="334.1" r="3.2"/><circle cx="575.4" cy="333.5" r="3.2"/><circle cx="575.9" cy="334.3" r="3.2"/><circle cx="576.5" cy="333.2" r="3.2"/><circle cx="577.0" cy="332.0" r="3.2"/><circle cx="577.6" cy="335.1" r="3.2"/><circle cx="578.1" cy="332.3" r="3.2"/><circle cx="578.7" cy="332.7" r="3.2"/><circle cx="579.2" cy="332.0" r="3.2"/><circle cx="579.8" cy="332.3" r="3.2"/><circle cx="580.3" cy="330.7" r="3.2"/><circle cx="580.9" cy="331.5" r="3.2"/><circle cx="581.4" cy="331.4" r="3.2"/><circle cx="582.0" cy="332.4" r="3.2"/><circle cx="582.6" cy="332.3" r="3.2"/><circle cx="583.1" cy="331.9" r="3.2"/><circle cx="583.7" cy="333.3" r="3.2"/><circle cx="584.2" cy="333.2" r="3.2"/><circle cx="584.8" cy="333.6" r="3.2"/><circle cx="585.3" cy="333.2" r="3.2"/><circle cx="585.9" cy="332.0" r="3.2"/><circle cx="586.4" cy="332.2" r="3.2"/><circle cx="587.0" cy="331.2" r="3.2"/><circle cx="587.5" cy="332.6" r="3.2"/><circle cx="588.1" cy="333.2" r="3.2"/><circle cx="588.6" cy="333.3" r="3.2"/><circle cx="589.2" cy="334.1" r="3.2"/><circle cx="589.7" cy="333.3" r="3.2"/><circle cx="590.3" cy="333.9" r="3.2"/><circle cx="590.8" cy="334.3" r="3.2"/><circle cx="591.4" cy="333.6" r="3.2"/><circle cx="592.0" cy="334.1" r="3.2"/><circle cx="592.5" cy="333.7" r="3.2"/><circle cx="593.1" cy="333.6" r="3.2"/><circle cx="593.6" cy="332.2" r="3.2"/><circle cx="594.2" cy="331.2" r="3.2"/><circle cx="594.7" cy="331.5" r="3.2"/><circle cx="595.3" cy="333.0" r="3.2"/><circle cx="595.8" cy="332.3" r="3.2"/><circle cx="596.4" cy="331.5" r="3.2"/><circle cx="596.9" cy="332.0" r="3.2"/><circle cx="597.5" cy="333.0" r="3.2"/><circle cx="598.0" cy="332.0" r="3.2"/><circle cx="598.6" cy="332.8" r="3.2"/><circle cx="599.1" cy="333.7" r="3.2"/><circle cx="599.7" cy="332.7" r="3.2"/><circle cx="600.2" cy="334.2" r="3.2"/><circle cx="600.8" cy="333.3" r="3.2"/><circle cx="601.4" cy="334.7" r="3.2"/><circle cx="601.9" cy="334.1" r="3.2"/><circle cx="602.5" cy="334.5" r="3.2"/><circle cx="603.0" cy="335.6" r="3.2"/><circle cx="603.6" cy="334.4" r="3.2"/><circle cx="604.1" cy="336.4" r="3.2"/><circle cx="604.7" cy="335.3" r="3.2"/><circle cx="605.2" cy="335.6" r="3.2"/><circle cx="605.8" cy="334.3" r="3.2"/><circle cx="606.3" cy="336.4" r="3.2"/><circle cx="606.9" cy="335.1" r="3.2"/><circle cx="607.4" cy="333.5" r="3.2"/><circle cx="608.0" cy="335.1" r="3.2"/><circle cx="608.5" cy="335.6" r="3.2"/><circle cx="609.1" cy="334.8" r="3.2"/><circle cx="609.6" cy="334.1" r="3.2"/><circle cx="610.2" cy="334.2" r="3.2"/><circle cx="610.8" cy="335.7" r="3.2"/><circle cx="611.3" cy="336.2" r="3.2"/><circle cx="611.9" cy="337.1" r="3.2"/><circle cx="612.4" cy="338.1" r="3.2"/><circle cx="613.0" cy="340.0" r="3.2"/><circle cx="613.5" cy="337.7" r="3.2"/><circle cx="614.1" cy="340.2" r="3.2"/><circle cx="614.6" cy="340.2" r="3.2"/><circle cx="615.2" cy="341.5" r="3.2"/><circle cx="615.7" cy="341.6" r="3.2"/><circle cx="616.3" cy="341.4" r="3.2"/><circle cx="616.8" cy="341.8" r="3.2"/><circle cx="617.4" cy="340.5" r="3.2"/><circle cx="617.9" cy="340.2" r="3.2"/><circle cx="618.5" cy="341.3" r="3.2"/><circle cx="619.0" cy="339.9" r="3.2"/><circle cx="619.6" cy="341.9" r="3.2"/><circle cx="620.2" cy="340.6" r="3.2"/><circle cx="620.7" cy="339.4" r="3.2"/><circle cx="621.3" cy="341.9" r="3.2"/><circle cx="621.8" cy="341.7" r="3.2"/><circle cx="622.4" cy="339.9" r="3.2"/><circle cx="622.9" cy="340.5" r="3.2"/><circle cx="623.5" cy="343.0" r="3.2"/><circle cx="624.0" cy="341.6" r="3.2"/><circle cx="624.6" cy="342.1" r="3.2"/><circle cx="625.1" cy="342.2" r="3.2"/><circle cx="625.7" cy="344.4" r="3.2"/><circle cx="626.2" cy="343.6" r="3.2"/><circle cx="626.8" cy="343.3" r="3.2"/><circle cx="627.3" cy="345.1" r="3.2"/><circle cx="627.9" cy="344.1" r="3.2"/><circle cx="628.5" cy="344.9" r="3.2"/><circle cx="629.0" cy="344.2" r="3.2"/><circle cx="629.6" cy="343.9" r="3.2"/><circle cx="630.1" cy="346.1" r="3.2"/><circle cx="630.7" cy="348.4" r="3.2"/><circle cx="631.2" cy="346.1" r="3.2"/><circle cx="631.8" cy="346.1" r="3.2"/><circle cx="632.3" cy="348.2" r="3.2"/><circle cx="632.9" cy="347.0" r="3.2"/><circle cx="633.4" cy="347.4" r="3.2"/><circle cx="634.0" cy="348.0" r="3.2"/><circle cx="634.5" cy="350.1" r="3.2"/><circle cx="635.1" cy="352.0" r="3.2"/><circle cx="635.6" cy="350.3" r="3.2"/><circle cx="636.2" cy="351.8" r="3.2"/><circle cx="636.7" cy="353.3" r="3.2"/><circle cx="637.3" cy="353.1" r="3.2"/><circle cx="637.9" cy="355.8" r="3.2"/><circle cx="638.4" cy="356.1" r="3.2"/><circle cx="639.0" cy="356.3" r="3.2"/><circle cx="639.5" cy="353.2" r="3.2"/><circle cx="640.1" cy="357.0" r="3.2"/><circle cx="640.6" cy="357.5" r="3.2"/><circle cx="641.2" cy="358.9" r="3.2"/><circle cx="641.7" cy="360.6" r="3.2"/><circle cx="642.3" cy="357.3" r="3.2"/><circle cx="642.8" cy="356.0" r="3.2"/><circle cx="643.4" cy="358.0" r="3.2"/><circle cx="643.9" cy="359.2" r="3.2"/><circle cx="644.5" cy="359.9" r="3.2"/><circle cx="645.0" cy="360.2" r="3.2"/><circle cx="645.6" cy="360.7" r="3.2"/><circle cx="646.1" cy="360.3" r="3.2"/><circle cx="646.7" cy="359.2" r="3.2"/><circle cx="647.3" cy="359.4" r="3.2"/><circle cx="647.8" cy="359.0" r="3.2"/><circle cx="648.4" cy="361.7" r="3.2"/><circle cx="648.9" cy="359.6" r="3.2"/><circle cx="649.5" cy="360.7" r="3.2"/><circle cx="650.0" cy="361.7" r="3.2"/><circle cx="650.6" cy="362.2" r="3.2"/><circle cx="651.1" cy="360.4" r="3.2"/><circle cx="651.7" cy="360.0" r="3.2"/><circle cx="652.2" cy="361.3" r="3.2"/><circle cx="652.8" cy="360.3" r="3.2"/><circle cx="653.3" cy="356.6" r="3.2"/><circle cx="653.9" cy="356.8" r="3.2"/><circle cx="654.4" cy="357.6" r="3.2"/><circle cx="655.0" cy="358.4" r="3.2"/><circle cx="655.5" cy="357.3" r="3.2"/><circle cx="656.1" cy="358.4" r="3.2"/><circle cx="656.7" cy="357.7" r="3.2"/><circle cx="657.2" cy="358.6" r="3.2"/><circle cx="657.8" cy="356.5" r="3.2"/><circle cx="658.3" cy="357.2" r="3.2"/><circle cx="658.9" cy="354.7" r="3.2"/><circle cx="659.4" cy="354.2" r="3.2"/><circle cx="660.0" cy="354.9" r="3.2"/><circle cx="660.5" cy="354.1" r="3.2"/><circle cx="661.1" cy="354.3" r="3.2"/><circle cx="661.6" cy="355.8" r="3.2"/><circle cx="662.2" cy="354.8" r="3.2"/><circle cx="662.7" cy="355.2" r="3.2"/><circle cx="663.3" cy="355.6" r="3.2"/><circle cx="663.8" cy="356.9" r="3.2"/><circle cx="664.4" cy="357.9" r="3.2"/><circle cx="664.9" cy="357.3" r="3.2"/><circle cx="665.5" cy="358.8" r="3.2"/><circle cx="666.1" cy="359.3" r="3.2"/><circle cx="666.6" cy="358.6" r="3.2"/><circle cx="667.2" cy="360.7" r="3.2"/><circle cx="667.7" cy="362.4" r="3.2"/><circle cx="668.3" cy="360.3" r="3.2"/><circle cx="668.8" cy="359.2" r="3.2"/><circle cx="669.4" cy="358.1" r="3.2"/><circle cx="669.9" cy="358.2" r="3.2"/><circle cx="670.5" cy="360.4" r="3.2"/><circle cx="671.0" cy="359.7" r="3.2"/><circle cx="671.6" cy="359.4" r="3.2"/><circle cx="672.1" cy="358.9" r="3.2"/><circle cx="672.7" cy="359.4" r="3.2"/><circle cx="673.2" cy="359.9" r="3.2"/><circle cx="673.8" cy="360.4" r="3.2"/><circle cx="674.4" cy="362.9" r="3.2"/><circle cx="674.9" cy="363.1" r="3.2"/><circle cx="675.5" cy="365.6" r="3.2"/><circle cx="676.0" cy="366.9" r="3.2"/><circle cx="676.6" cy="365.8" r="3.2"/><circle cx="677.1" cy="367.8" r="3.2"/><circle cx="677.7" cy="370.5" r="3.2"/><circle cx="678.2" cy="371.3" r="3.2"/><circle cx="678.8" cy="369.5" r="3.2"/><circle cx="679.3" cy="368.3" r="3.2"/><circle cx="679.9" cy="368.7" r="3.2"/><circle cx="680.4" cy="368.6" r="3.2"/></g>
<polyline fill="none" stroke="#ff0000" stroke-width="0.50" stroke-linejoin="bevel" points="425.5,344.3 426.1,343.9 426.6,343.4 427.2,344.4 427.7,343.7 428.3,343.9 428.8,344.8 429.4,347.6 429.9,350.1 430.5,347.3 431.0,349.8 431.6,343.7 432.1,348.5 432.7,344.6 433.2,348.4 433.8,348.6 434.3,350.4 434.9,349.4 435.5,347.7 436.0,349.4 436.6,352.7 437.1,347.9 437.7,351.7 438.2,353.5 438.8,348.5 439.3,353.9 439.9,354.3 440.4,353.1 441.0,355.4 441.5,353.5 442.1,355.5 442.6,356.7 443.2,358.5 443.7,358.1 444.3,357.3 444.9,355.4 445.4,358.0 446.0,356.9 446.5,357.5 447.1,359.4 447.6,360.7 448.2,358.4 448.7,362.3 449.3,361.5 449.8,357.9 450.4,362.3 450.9,355.4 451.5,359.9 452.0,360.5 452.6,353.1 453.1,358.6 453.7,362.6 454.3,358.2 454.8,349.5 455.4,356.0 455.9,359.2 456.5,356.5 457.0,356.1 457.6,357.0 458.1,355.3 458.7,355.6 459.2,358.8 459.8,356.9 460.3,360.3 460.9,359.7 461.4,357.3 462.0,358.9 462.6,361.6 463.1,356.7 463.7,358.2 464.2,355.9 464.8,360.6 465.3,359.0 465.9,360.5 466.4,359.5 467.0,360.0 467.5,362.5 468.1,359.2 468.6,359.9 469.2,359.2 469.7,361.0 470.3,361.8 470.8,359.2 471.4,358.5 472.0,353.4 472.5,362.7 473.1,362.4 473.6,363.6 474.2,366.2 474.7,364.2 475.3,364.3 475.8,364.4 476.4,364.0 476.9,367.5 477.5,366.7 478.0,370.5 478.6,368.7 479.1,369.6 479.7,373.3 480.2,375.3 480.8,374.0 481.4,373.1 481.9,371.9 482.5,364.2 483.0,372.3 483.6,367.8 484.1,363.2 484.7,370.3 485.2,369.2 485.8,369.8 486.3,372.3 486.9,373.9 487.4,370.9 488.0,371.4 488.5,365.2 489.1,366.5 489.6,368.6 490.2,367.0 490.8,363.4 491.3,363.5 491.9,359.1 492.4,357.7 493.0,355.8 493.5,360.4 494.1,357.2 494.6,355.3 495.2,356.4 495.7,354.4 496.3,355.9 496.8,356.8 497.4,353.5 497.9,355.5 498.5,358.5 499.0,352.5 499.6,353.6 500.2,354.7 500.7,352.7 501.3,350.9 501.8,352.4 502.4,353.0 502.9,351.8 503.5,353.7 504.0,353.0 504.6,353.4 505.1,353.5 505.7,353.4 506.2,357.5 506.8,354.3 507.3,350.9 507.9,352.8 508.4,353.8 509.0,354.1 509.6,352.4 510.1,350.7 510.7,352.9 511.2,352.6 511.8,352.5 512.3,351.3 512.9,351.3 513.4,352.1 514.0,350.5 514.5,351.4 515.1,355.0 515.6,350.9 516.2,349.4 516.7,346.8 517.3,343.2 517.9,349.0 518.4,348.5 519.0,353.1 519.5,347.4 520.1,344.4 520.6,350.7 521.2,345.4 521.7,346.0 522.3,346.9 522.8,349.1 523.4,347.1 523.9,346.8 524.5,345.9 525.0,345.9 525.6,345.5 526.1,343.7 526.7,344.4 527.3,345.7 527.8,345.5 528.4,347.8 528.9,342.6 529.5,345.1 530.0,343.7 530.6,340.4 531.1,343.6 531.7,340.6 532.2,339.9 532.8,342.6 533.3,339.7 533.9,340.7 534.4,340.7 535.0,342.7 535.5,341.9 536.1,344.2 536.7,338.7 537.2,338.6 537.8,341.3 538.3,338.6 538.9,341.8 539.4,342.8 540.0,334.3 540.5,338.9 541.1,338.0 541.6,338.4 542.2,338.9 542.7,335.6 543.3,338.3 543.8,335.9 544.4,334.9 544.9,337.8 545.5,337.9 546.1,336.7 546.6,333.5 547.2,333.1 547.7,341.1 548.3,332.6 548.8,328.0 549.4,336.0 549.9,334.0 550.5,332.5 551.0,331.6 551.6,332.8 552.1,332.5 552.7,331.7 553.2,332.0 553.8,334.0 554.3,334.9 554.9,334.0 555.5,332.4 556.0,333.7 556.6,336.0 557.1,335.8 557.7,334.1 558.2,333.6 558.8,337.5 559.3,337.4 559.9,337.7 560.4,334.7 561.0,335.2 561.5,337.9 562.1,337.8 562.6,337.3 563.2,338.8 563.8,335.1 564.3,339.2 564.9,339.4 565.4,339.2 566.0,342.3 566.5,336.8 567.1,342.2 567.6,335.3 568.2,335.2 568.7,334.9 569.3,337.9 569.8,334.1 570.4,338.4 570.9,337.1 571.5,339.2 572.0,336.8 572.6,337.5 573.2,336.2 573.7,339.5 574.3,333.2 574.8,335.1 575.4,336.9 575.9,334.8 576.5,332.3 577.0,331.2 577.6,330.6 578.1,338.4 578.7,332.8 579.2,329.2 579.8,337.9 580.3,332.8 580.9,331.7 581.4,333.9 582.0,332.0 582.6,333.3 583.1,332.6 583.7,333.1 584.2,333.3 584.8,331.7 585.3,332.7 585.9,331.2 586.4,328.0 587.0,330.4 587.5,332.3 588.1,334.6 588.6,332.2 589.2,327.5 589.7,333.1 590.3,335.1 590.8,332.2 591.4,334.8 592.0,334.2 592.5,333.7 593.1,334.7 593.6,331.7 594.2,337.7 594.7,333.0 595.3,331.4 595.8,331.0 596.4,331.9 596.9,338.0 597.5,331.7 598.0,334.1 598.6,334.2 599.1,333.4 599.7,333.6 600.2,333.6 600.8,333.5 601.4,334.5 601.9,332.5 602.5,334.7 603.0,336.0 603.6,332.0 604.1,337.3 604.7,333.8 605.2,334.6 605.8,336.0 606.3,337.1 606.9,335.5 607.4,334.2 608.0,338.7 608.5,337.9 609.1,336.0 609.6,333.7 610.2,335.0 610.8,333.6 611.3,336.1 611.9,337.9 612.4,333.3 613.0,338.7 613.5,338.0 614.1,350.4 614.6,345.8 615.2,350.3 615.7,346.6 616.3,343.8 616.8,350.2 617.4,346.3 617.9,349.9 618.5,349.5 619.0,335.8 619.6,340.9 620.2,339.3 620.7,341.4 621.3,342.4 621.8,338.9 622.4,340.4 622.9,343.0 623.5,343.5 624.0,343.3 624.6,342.9 625.1,352.6 625.7,356.8 626.2,351.3 626.8,354.2 627.3,352.5 627.9,343.9 628.5,342.4 629.0,341.9 629.6,344.3 630.1,346.1 630.7,345.9 631.2,347.8 631.8,343.7 632.3,347.8 632.9,346.4 633.4,350.7 634.0,339.2 634.5,339.5 635.1,347.4 635.6,346.4 636.2,344.0 636.7,338.8 637.3,354.1 637.9,352.1 638.4,352.5 639.0,355.5 639.5,354.7 640.1,353.6 640.6,357.1 641.2,360.1 641.7,359.5 642.3,356.8 642.8,361.5 643.4,358.0 643.9,358.5 644.5,349.2 645.0,351.1 645.6,351.4 646.1,365.1 646.7,360.8 647.3,360.4 647.8,362.1 648.4,361.9 648.9,359.4 649.5,361.0 650.0,361.1 650.6,362.6 651.1,358.5 651.7,357.1 652.2,359.9 652.8,359.8 653.3,356.5 653.9,358.3 654.4,357.6 655.0,358.7 655.5,355.2 656.1,354.3 656.7,356.3 657.2,360.3 657.8,359.0 658.3,356.5 658.9,357.4 659.4,357.7 660.0,360.3 660.5,365.0 661.1,361.6 661.6,357.0 662.2,356.2 662.7,355.0 663.3,355.6 663.8,356.2 664.4,357.9 664.9,357.4 665.5,348.7 666.1,346.2 666.6,357.1 667.2,361.0 667.7,362.3 668.3,360.6 668.8,358.1 669.4,358.2 669.9,359.9 670.5,360.4 671.0,358.0 671.6,359.8 672.1,356.5 672.7,360.5 673.2,364.5 673.8,360.8 674.4,365.4 674.9,366.0 675.5,363.8 676.0,367.6 676.6,365.4 677.1,368.7 677.7,369.7 678.2,372.2 678.8,362.3 679.3,360.9 679.9,364.4 680.4,370.8"/>
<polyline fill="none" stroke="#000000" stroke-width="0.55" stroke-linejoin="bevel" points="425.5,344.2 426.1,343.4 426.6,342.9 427.2,345.8 427.7,342.5 428.3,338.1 428.8,344.4 429.4,345.8 429.9,350.3 430.5,351.3 431.0,346.4 431.6,344.9 432.1,351.2 432.7,343.5 433.2,346.8 433.8,348.2 434.3,348.9 434.9,350.5 435.5,346.1 436.0,349.8 436.6,351.5 437.1,348.4 437.7,352.2 438.2,348.0 438.8,346.0 439.3,355.4 439.9,356.5 440.4,354.6 441.0,355.2 441.5,353.5 442.1,354.3 442.6,356.9 443.2,358.0 443.7,357.5 444.3,357.3 444.9,357.7 445.4,355.5 446.0,354.7 446.5,357.7 447.1,359.7 447.6,359.6 448.2,354.3 448.7,360.6 449.3,362.6 449.8,358.0 450.4,359.8 450.9,359.4 451.5,358.6 452.0,359.6 452.6,353.1 453.1,358.8 453.7,358.4 454.3,356.7 454.8,349.5 455.4,356.5 455.9,360.4 456.5,355.5 457.0,355.1 457.6,355.6 458.1,353.4 458.7,355.5 459.2,357.2 459.8,358.3 460.3,358.4 460.9,360.1 461.4,358.0 462.0,358.0 462.6,358.6 463.1,357.5 463.7,357.4 464.2,358.1 464.8,359.5 465.3,358.7 465.9,361.4 466.4,360.1 467.0,357.1 467.5,360.9 468.1,360.2 468.6,358.6 469.2,359.6 469.7,359.6 470.3,360.0 470.8,359.6 471.4,353.8 472.0,360.6 472.5,360.3 473.1,363.3 473.6,364.9 474.2,365.9 474.7,366.5 475.3,364.5 475.8,363.4 476.4,362.8 476.9,366.7 477.5,366.6 478.0,371.4 478.6,368.7 479.1,367.8 479.7,370.3 480.2,369.4 480.8,371.3 481.4,373.0 481.9,372.1 482.5,365.7 483.0,368.5 483.6,368.2 484.1,363.8 484.7,369.8 485.2,366.7 485.8,364.1 486.3,373.4 486.9,373.2 487.4,369.3 488.0,371.2 488.5,365.8 489.1,366.9 489.6,367.3 490.2,369.1 490.8,363.4 491.3,361.1 491.9,359.3 492.4,358.5 493.0,353.1 493.5,359.5 494.1,357.7 494.6,356.0 495.2,357.3 495.7,347.6 496.3,354.4 496.8,356.1 497.4,353.5 497.9,355.5 498.5,357.3 499.0,351.7 499.6,355.8 500.2,356.3 500.7,352.0 501.3,350.8 501.8,351.5 502.4,352.1 502.9,351.8 503.5,353.0 504.0,353.8 504.6,354.4 505.1,352.4 505.7,353.6 506.2,357.8 506.8,354.7 507.3,352.4 507.9,354.5 508.4,353.0 509.0,352.5 509.6,350.3 510.1,350.4 510.7,352.9 511.2,350.8 511.8,353.7 512.3,352.4 512.9,352.1 513.4,352.1 514.0,351.5 514.5,350.9 515.1,349.6 515.6,343.4 516.2,346.6 516.7,347.3 517.3,342.1 517.9,350.5 518.4,348.5 519.0,346.5 519.5,348.3 520.1,342.9 520.6,349.7 521.2,339.5 521.7,342.2 522.3,346.1 522.8,349.7 523.4,346.9 523.9,345.9 524.5,344.3 525.0,344.3 525.6,346.4 526.1,345.3 526.7,343.4 527.3,343.4 527.8,345.3 528.4,348.8 528.9,342.8 529.5,343.3 530.0,343.8 530.6,340.6 531.1,345.3 531.7,341.2 532.2,336.8 532.8,341.0 533.3,339.3 533.9,340.5 534.4,340.6 535.0,344.1 535.5,341.8 536.1,342.7 536.7,339.8 537.2,340.1 537.8,341.2 538.3,338.4 538.9,341.4 539.4,340.2 540.0,342.3 540.5,339.6 541.1,337.1 541.6,336.9 542.2,338.7 542.7,335.2 543.3,339.4 543.8,337.5 544.4,335.4 544.9,339.2 545.5,331.4 546.1,336.2 546.6,334.0 547.2,334.6 547.7,335.0 548.3,333.2 548.8,334.4 549.4,336.9 549.9,334.6 550.5,332.1 551.0,331.0 551.6,332.2 552.1,333.3 552.7,331.4 553.2,331.4 553.8,332.9 554.3,335.2 554.9,334.2 555.5,332.5 556.0,335.5 556.6,333.8 557.1,336.5 557.7,332.5 558.2,331.0 558.8,337.9 559.3,339.1 559.9,337.2 560.4,332.5 561.0,335.8 561.5,339.4 562.1,337.2 562.6,337.8 563.2,333.1 563.8,337.8 564.3,337.7 564.9,339.8 565.4,339.1 566.0,337.9 566.5,335.7 567.1,333.9 567.6,334.0 568.2,335.5 568.7,336.1 569.3,336.7 569.8,333.9 570.4,338.3 570.9,336.3 571.5,338.3 572.0,334.8 572.6,336.6 573.2,335.6 573.7,333.1 574.3,333.5 574.8,335.5 575.4,335.9 575.9,332.7 576.5,330.7 577.0,330.8 577.6,331.5 578.1,338.4 578.7,331.8 579.2,330.5 579.8,332.4 580.3,336.6 580.9,329.9 581.4,332.1 582.0,333.3 582.6,332.0 583.1,330.5 583.7,331.1 584.2,329.0 584.8,325.6 585.3,331.2 585.9,331.7 586.4,328.3 587.0,329.6 587.5,331.6 588.1,327.5 588.6,332.5 589.2,329.2 589.7,332.2 590.3,334.3 590.8,333.5 591.4,334.2 592.0,333.0 592.5,334.9 593.1,333.5 593.6,330.0 594.2,334.5 594.7,335.1 595.3,331.0 595.8,331.2 596.4,331.0 596.9,338.0 597.5,331.0 598.0,332.5 598.6,333.9 599.1,333.2 599.7,334.1 600.2,333.8 600.8,333.2 601.4,332.8 601.9,330.8 602.5,335.9 603.0,333.7 603.6,333.8 604.1,336.6 604.7,335.7 605.2,335.5 605.8,334.4 606.3,337.6 606.9,330.5 607.4,335.8 608.0,335.8 608.5,336.9 609.1,335.3 609.6,332.5 610.2,333.7 610.8,334.1 611.3,336.0 611.9,335.7 612.4,332.6 613.0,337.7 613.5,338.3 614.1,350.8 614.6,345.8 615.2,348.2 615.7,347.1 616.3,345.3 616.8,349.2 617.4,344.9 617.9,350.6 618.5,348.4 619.0,336.5 619.6,341.2 620.2,339.2 620.7,339.3 621.3,343.0 621.8,339.6 622.4,342.6 622.9,342.6 623.5,343.0 624.0,341.4 624.6,342.5 625.1,351.4 625.7,356.0 626.2,352.5 626.8,354.2 627.3,352.2 627.9,340.5 628.5,341.3 629.0,345.1 629.6,344.3 630.1,344.2 630.7,345.5 631.2,348.7 631.8,343.4 632.3,347.7 632.9,346.8 633.4,351.1 634.0,337.6 634.5,337.6 635.1,345.9 635.6,345.9 636.2,343.6 636.7,338.2 637.3,352.6 637.9,352.8 638.4,355.7 639.0,355.8 639.5,361.2 640.1,356.5 640.6,356.6 641.2,358.6 641.7,359.1 642.3,355.6 642.8,360.6 643.4,357.4 643.9,356.1 644.5,347.9 645.0,351.7 645.6,352.8 646.1,360.1 646.7,359.9 647.3,358.6 647.8,362.0 648.4,360.0 648.9,360.9 649.5,358.8 650.0,361.6 650.6,360.8 651.1,360.1 651.7,355.8 652.2,359.2 652.8,358.0 653.3,357.4 653.9,357.1 654.4,356.9 655.0,362.3 655.5,355.3 656.1,358.0 656.7,357.3 657.2,354.3 657.8,357.5 658.3,356.1 658.9,355.4 659.4,353.4 660.0,361.0 660.5,363.7 661.1,361.1 661.6,357.6 662.2,355.6 662.7,356.9 663.3,359.3 663.8,357.4 664.4,358.3 664.9,355.1 665.5,350.1 666.1,344.0 666.6,358.2 667.2,360.6 667.7,360.8 668.3,360.1 668.8,358.7 669.4,358.1 669.9,358.3 670.5,362.1 671.0,357.6 671.6,359.8 672.1,363.3 672.7,361.5 673.2,355.9 673.8,359.1 674.4,364.4 674.9,363.7 675.5,363.6 676.0,367.7 676.6,367.1 677.1,366.9 677.7,368.4 678.2,370.9 678.8,361.1 679.3,360.9 679.9,366.2 680.4,368.9"/>
<g shape-rendering="auto"><path d="M420.9 310.5H680.5" stroke="#444" stroke-width="1.2"/><path d="M680.5 310.5V449.0" stroke="#555" stroke-width="1.2"/><path d="M425.5 310.5V453.3" stroke="#1a1a1a" stroke-width="1.1"/><path d="M420.9 449.0H680.5" stroke="#1a1a1a" stroke-width="1.1"/><path d="M420.9 429.2H425.5M420.9 409.4H425.5M420.9 389.6H425.5M420.9 369.9H425.5M420.9 350.1H425.5M420.9 330.3H425.5M480.8 449.0V453.3M536.1 449.0V453.3M591.4 449.0V453.3M646.7 449.0V453.3" stroke="#1a1a1a" stroke-width="1" fill="none"/></g>
<text transform="translate(412.8 454.5) scale(0.975 1)" text-anchor="end" font-size="15.6">0</text><text transform="translate(412.8 434.7) scale(0.975 1)" text-anchor="end" font-size="15.6">5</text><text transform="translate(412.8 414.9) scale(0.975 1)" text-anchor="end" font-size="15.6">10</text><text transform="translate(412.8 395.1) scale(0.975 1)" text-anchor="end" font-size="15.6">15</text><text transform="translate(412.8 375.4) scale(0.975 1)" text-anchor="end" font-size="15.6">20</text><text transform="translate(412.8 355.6) scale(0.975 1)" text-anchor="end" font-size="15.6">25</text><text transform="translate(412.8 335.8) scale(0.975 1)" text-anchor="end" font-size="15.6">30</text><text transform="translate(412.8 316.0) scale(0.975 1)" text-anchor="end" font-size="15.6">35</text><text transform="translate(425.8 471.6) scale(1.020 1)" text-anchor="middle" font-size="14.8">0</text><text transform="translate(481.1 471.6) scale(1.020 1)" text-anchor="middle" font-size="14.8">100</text><text transform="translate(536.4 471.6) scale(1.020 1)" text-anchor="middle" font-size="14.8">200</text><text transform="translate(591.7 471.6) scale(1.020 1)" text-anchor="middle" font-size="14.8">300</text><text transform="translate(647.0 471.6) scale(1.020 1)" text-anchor="middle" font-size="14.8">400</text><text transform="translate(532.6 289.9) scale(0.975 1)" text-anchor="middle" font-size="15.0">50 cm</text><text transform="translate(553.4 498.0) scale(0.985 1)" text-anchor="middle" font-size="15.3">Days</text><text transform="translate(378.4 378.0) rotate(-90) scale(0.985 1)" text-anchor="middle" font-size="15.8">Soil Temperature (C)</text>
<circle cx="72.9" cy="242.5" r="3.4" fill="#fff400" stroke="#000" stroke-width="1.15"/><text x="89.3" y="246.7" font-size="12.8" textLength="49.8" lengthAdjust="spacingAndGlyphs">Observed</text><path d="M155.4 242.5H181.6" stroke="#f86c6c" stroke-width="1.4"/><text x="184.6" y="246.7" font-size="12.8" textLength="27.2" lengthAdjust="spacingAndGlyphs">MLP</text><path d="M226.8 242.5H253.0" stroke="#6a6a6a" stroke-width="1.3"/><text x="256.2" y="246.7" font-size="12.8" textLength="54.6" lengthAdjust="spacingAndGlyphs">MLP-SSO</text>
</svg>
</body></html>
